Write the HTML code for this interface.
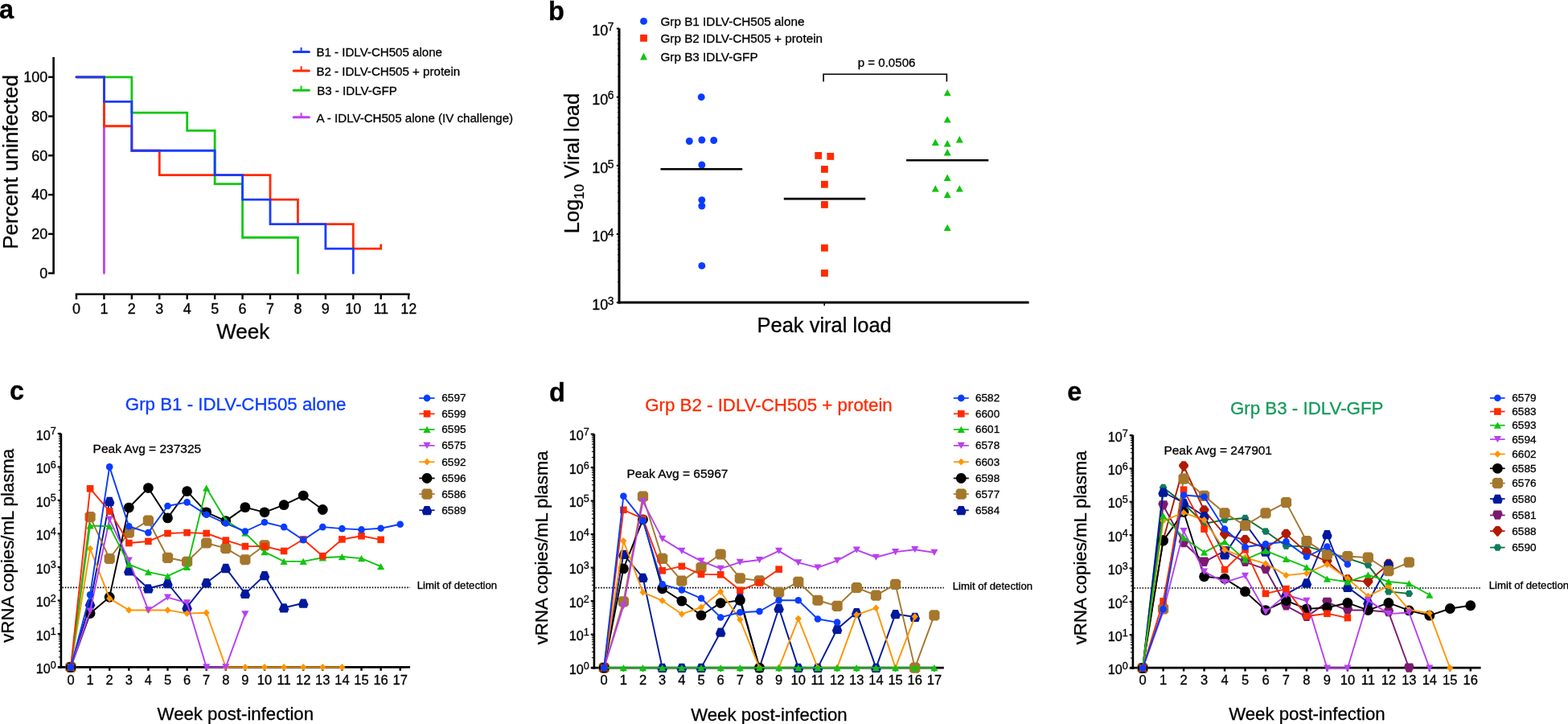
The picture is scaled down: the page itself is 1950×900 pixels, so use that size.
<!DOCTYPE html><html><head><meta charset="utf-8"><title>Figure</title><style>html,body{margin:0;padding:0;background:#fff;}svg{display:block;}</style></head><body>
<svg width="1950" height="900" viewBox="0 0 1950 900" font-family="'Liberation Sans', Arial, Helvetica, sans-serif">
<style>text{stroke:currentColor;stroke-width:0.3px;}</style>
<rect width="1950" height="900" fill="#fff"/>
<text x="-1" y="22.5" font-size="32.5" font-weight="bold">a</text>
<line x1="66.6" y1="71" x2="66.6" y2="340.8" stroke="#000" stroke-width="2.6"/>
<line x1="60" y1="339.6" x2="66.6" y2="339.6" stroke="#000" stroke-width="2.4"/>
<text x="59.2" y="345.9" font-size="18" text-anchor="end">0</text>
<line x1="60" y1="290.84" x2="66.6" y2="290.84" stroke="#000" stroke-width="2.4"/>
<text x="59.2" y="297.14" font-size="18" text-anchor="end">20</text>
<line x1="60" y1="242.08" x2="66.6" y2="242.08" stroke="#000" stroke-width="2.4"/>
<text x="59.2" y="248.38" font-size="18" text-anchor="end">40</text>
<line x1="60" y1="193.32" x2="66.6" y2="193.32" stroke="#000" stroke-width="2.4"/>
<text x="59.2" y="199.62" font-size="18" text-anchor="end">60</text>
<line x1="60" y1="144.56" x2="66.6" y2="144.56" stroke="#000" stroke-width="2.4"/>
<text x="59.2" y="150.86" font-size="18" text-anchor="end">80</text>
<line x1="60" y1="95.8" x2="66.6" y2="95.8" stroke="#000" stroke-width="2.4"/>
<text x="59.2" y="102.1" font-size="18" text-anchor="end">100</text>
<line x1="93.8" y1="365.7" x2="509.7" y2="365.7" stroke="#000" stroke-width="2.6"/>
<line x1="95" y1="365.6" x2="95" y2="372.2" stroke="#000" stroke-width="2.4"/>
<text x="95" y="390.2" font-size="18" text-anchor="middle">0</text>
<line x1="129.43" y1="365.6" x2="129.43" y2="372.2" stroke="#000" stroke-width="2.4"/>
<text x="129.43" y="390.2" font-size="18" text-anchor="middle">1</text>
<line x1="163.86" y1="365.6" x2="163.86" y2="372.2" stroke="#000" stroke-width="2.4"/>
<text x="163.86" y="390.2" font-size="18" text-anchor="middle">2</text>
<line x1="198.29" y1="365.6" x2="198.29" y2="372.2" stroke="#000" stroke-width="2.4"/>
<text x="198.29" y="390.2" font-size="18" text-anchor="middle">3</text>
<line x1="232.72" y1="365.6" x2="232.72" y2="372.2" stroke="#000" stroke-width="2.4"/>
<text x="232.72" y="390.2" font-size="18" text-anchor="middle">4</text>
<line x1="267.15" y1="365.6" x2="267.15" y2="372.2" stroke="#000" stroke-width="2.4"/>
<text x="267.15" y="390.2" font-size="18" text-anchor="middle">5</text>
<line x1="301.58" y1="365.6" x2="301.58" y2="372.2" stroke="#000" stroke-width="2.4"/>
<text x="301.58" y="390.2" font-size="18" text-anchor="middle">6</text>
<line x1="336.01" y1="365.6" x2="336.01" y2="372.2" stroke="#000" stroke-width="2.4"/>
<text x="336.01" y="390.2" font-size="18" text-anchor="middle">7</text>
<line x1="370.44" y1="365.6" x2="370.44" y2="372.2" stroke="#000" stroke-width="2.4"/>
<text x="370.44" y="390.2" font-size="18" text-anchor="middle">8</text>
<line x1="404.87" y1="365.6" x2="404.87" y2="372.2" stroke="#000" stroke-width="2.4"/>
<text x="404.87" y="390.2" font-size="18" text-anchor="middle">9</text>
<line x1="439.3" y1="365.6" x2="439.3" y2="372.2" stroke="#000" stroke-width="2.4"/>
<text x="439.3" y="390.2" font-size="18" text-anchor="middle">10</text>
<line x1="473.73" y1="365.6" x2="473.73" y2="372.2" stroke="#000" stroke-width="2.4"/>
<text x="473.73" y="390.2" font-size="18" text-anchor="middle">11</text>
<line x1="508.16" y1="365.6" x2="508.16" y2="372.2" stroke="#000" stroke-width="2.4"/>
<text x="508.16" y="390.2" font-size="18" text-anchor="middle">12</text>
<text x="269.2" y="421.3" font-size="26">Week</text>
<text transform="translate(22.4,201.4) rotate(-90)" font-size="26" text-anchor="middle">Percent uninfected</text>
<polyline points="129.43,95.8 129.43,339.6" fill="none" stroke="#c040f0" stroke-width="2.8" stroke-linejoin="miter" stroke-linecap="round"/>
<polyline points="95,95.8 163.86,95.8 163.86,140.17 232.72,140.17 232.72,162.36 267.15,162.36 267.15,228.67 301.58,228.67 301.58,295.23 370.44,295.23 370.44,339.6" fill="none" stroke="#12c812" stroke-width="2.8" stroke-linejoin="miter" stroke-linecap="round"/>
<polyline points="95,95.8 129.43,95.8 129.43,156.75 163.86,156.75 163.86,187.23 198.29,187.23 198.29,217.7 336.01,217.7 336.01,248.18 370.44,248.18 370.44,278.65 439.3,278.65 439.3,309.12 473.73,309.12 473.73,304.74" fill="none" stroke="#ff2a00" stroke-width="2.8" stroke-linejoin="miter" stroke-linecap="round"/>
<polyline points="95,95.8 129.43,95.8 129.43,126.28 163.86,126.28 163.86,187.23 267.15,187.23 267.15,217.7 301.58,217.7 301.58,248.18 336.01,248.18 336.01,278.65 404.87,278.65 404.87,309.12 439.3,309.12 439.3,339.6" fill="none" stroke="#1a3cff" stroke-width="2.8" stroke-linejoin="miter" stroke-linecap="round"/>
<line x1="365.2" y1="64.6" x2="384.4" y2="64.6" stroke="#1a3cff" stroke-width="3" stroke-linecap="round"/>
<line x1="374.6" y1="64.6" x2="374.6" y2="59" stroke="#1a3cff" stroke-width="2"/>
<text x="393.4" y="70.4" font-size="15.1">B1 - IDLV-CH505 alone</text>
<line x1="365.2" y1="87.9" x2="384.4" y2="87.9" stroke="#ff2a00" stroke-width="3" stroke-linecap="round"/>
<line x1="374.6" y1="87.9" x2="374.6" y2="82.3" stroke="#ff2a00" stroke-width="2"/>
<text x="393.4" y="93.7" font-size="15.1">B2 - IDLV-CH505 + protein</text>
<line x1="365.2" y1="112.2" x2="384.4" y2="112.2" stroke="#12c812" stroke-width="3" stroke-linecap="round"/>
<line x1="374.6" y1="112.2" x2="374.6" y2="106.6" stroke="#12c812" stroke-width="2"/>
<text x="394.2" y="118" font-size="15.1">B3 - IDLV-GFP</text>
<line x1="365.2" y1="145.7" x2="384.4" y2="145.7" stroke="#c040f0" stroke-width="3" stroke-linecap="round"/>
<line x1="374.6" y1="145.7" x2="374.6" y2="140.1" stroke="#c040f0" stroke-width="2"/>
<text x="393.4" y="151.5" font-size="15.1">A - IDLV-CH505 alone (IV challenge)</text>
<text x="682" y="25" font-size="32.5" font-weight="bold">b</text>
<line x1="770" y1="35.3" x2="770" y2="377.4" stroke="#000" stroke-width="3"/>
<line x1="768.5" y1="376" x2="1279.6" y2="376" stroke="#000" stroke-width="3"/>
<line x1="766.8" y1="376.1" x2="770" y2="376.1" stroke="#000" stroke-width="2"/>
<text x="756.2" y="385" font-size="18" text-anchor="end">10</text>
<text x="755.7" y="378.8" font-size="13.8">3</text>
<line x1="768" y1="350.47" x2="770" y2="350.47" stroke="#000" stroke-width="1"/>
<line x1="768" y1="335.47" x2="770" y2="335.47" stroke="#000" stroke-width="1"/>
<line x1="768" y1="324.83" x2="770" y2="324.83" stroke="#000" stroke-width="1"/>
<line x1="768" y1="316.58" x2="770" y2="316.58" stroke="#000" stroke-width="1"/>
<line x1="768" y1="309.84" x2="770" y2="309.84" stroke="#000" stroke-width="1"/>
<line x1="768" y1="304.14" x2="770" y2="304.14" stroke="#000" stroke-width="1"/>
<line x1="768" y1="299.2" x2="770" y2="299.2" stroke="#000" stroke-width="1"/>
<line x1="768" y1="294.85" x2="770" y2="294.85" stroke="#000" stroke-width="1"/>
<line x1="766.8" y1="290.95" x2="770" y2="290.95" stroke="#000" stroke-width="2"/>
<text x="756.2" y="299.85" font-size="18" text-anchor="end">10</text>
<text x="755.7" y="293.65" font-size="13.8">4</text>
<line x1="768" y1="265.32" x2="770" y2="265.32" stroke="#000" stroke-width="1"/>
<line x1="768" y1="250.32" x2="770" y2="250.32" stroke="#000" stroke-width="1"/>
<line x1="768" y1="239.68" x2="770" y2="239.68" stroke="#000" stroke-width="1"/>
<line x1="768" y1="231.43" x2="770" y2="231.43" stroke="#000" stroke-width="1"/>
<line x1="768" y1="224.69" x2="770" y2="224.69" stroke="#000" stroke-width="1"/>
<line x1="768" y1="218.99" x2="770" y2="218.99" stroke="#000" stroke-width="1"/>
<line x1="768" y1="214.05" x2="770" y2="214.05" stroke="#000" stroke-width="1"/>
<line x1="768" y1="209.7" x2="770" y2="209.7" stroke="#000" stroke-width="1"/>
<line x1="766.8" y1="205.8" x2="770" y2="205.8" stroke="#000" stroke-width="2"/>
<text x="756.2" y="214.7" font-size="18" text-anchor="end">10</text>
<text x="755.7" y="208.5" font-size="13.8">5</text>
<line x1="768" y1="180.17" x2="770" y2="180.17" stroke="#000" stroke-width="1"/>
<line x1="768" y1="165.17" x2="770" y2="165.17" stroke="#000" stroke-width="1"/>
<line x1="768" y1="154.53" x2="770" y2="154.53" stroke="#000" stroke-width="1"/>
<line x1="768" y1="146.28" x2="770" y2="146.28" stroke="#000" stroke-width="1"/>
<line x1="768" y1="139.54" x2="770" y2="139.54" stroke="#000" stroke-width="1"/>
<line x1="768" y1="133.84" x2="770" y2="133.84" stroke="#000" stroke-width="1"/>
<line x1="768" y1="128.9" x2="770" y2="128.9" stroke="#000" stroke-width="1"/>
<line x1="768" y1="124.55" x2="770" y2="124.55" stroke="#000" stroke-width="1"/>
<line x1="766.8" y1="120.65" x2="770" y2="120.65" stroke="#000" stroke-width="2"/>
<text x="756.2" y="129.55" font-size="18" text-anchor="end">10</text>
<text x="755.7" y="123.35" font-size="13.8">6</text>
<line x1="768" y1="95.02" x2="770" y2="95.02" stroke="#000" stroke-width="1"/>
<line x1="768" y1="80.02" x2="770" y2="80.02" stroke="#000" stroke-width="1"/>
<line x1="768" y1="69.38" x2="770" y2="69.38" stroke="#000" stroke-width="1"/>
<line x1="768" y1="61.13" x2="770" y2="61.13" stroke="#000" stroke-width="1"/>
<line x1="768" y1="54.39" x2="770" y2="54.39" stroke="#000" stroke-width="1"/>
<line x1="768" y1="48.69" x2="770" y2="48.69" stroke="#000" stroke-width="1"/>
<line x1="768" y1="43.75" x2="770" y2="43.75" stroke="#000" stroke-width="1"/>
<line x1="768" y1="39.4" x2="770" y2="39.4" stroke="#000" stroke-width="1"/>
<line x1="766.8" y1="35.5" x2="770" y2="35.5" stroke="#000" stroke-width="2"/>
<text x="756.2" y="44.4" font-size="18" text-anchor="end">10</text>
<text x="755.7" y="38.2" font-size="13.8">7</text>
<line x1="1025.2" y1="376" x2="1025.2" y2="380" stroke="#000" stroke-width="1.6"/>
<text transform="translate(720.2,203) rotate(-90)" font-size="25.5" text-anchor="middle">Log<tspan font-size="17" dy="5.5">10</tspan><tspan dy="-5.5"> Viral load</tspan></text>
<text x="941.5" y="413" font-size="25.5">Peak viral load</text>
<polyline points="1024.1,101.6 1024.1,92.3 1177.4,92.3 1177.4,101.6" fill="none" stroke="#000" stroke-width="1.6"/>
<text x="1066.7" y="82.9" font-size="15.1">p = 0.0506</text>
<circle cx="857.3" cy="175.5" r="4.45" fill="#0a3cff"/>
<circle cx="872.8" cy="174" r="4.45" fill="#0a3cff"/>
<circle cx="887.7" cy="174.5" r="4.45" fill="#0a3cff"/>
<circle cx="872.2" cy="120.7" r="4.45" fill="#0a3cff"/>
<circle cx="872.8" cy="205" r="4.45" fill="#0a3cff"/>
<circle cx="872.8" cy="248.6" r="4.45" fill="#0a3cff"/>
<circle cx="872.8" cy="256" r="4.45" fill="#0a3cff"/>
<circle cx="872.8" cy="330.4" r="4.45" fill="#0a3cff"/>
<rect x="1013.3" y="189" width="8.8" height="8.8" fill="#ff2a00"/>
<rect x="1028.4" y="190" width="8.8" height="8.8" fill="#ff2a00"/>
<rect x="1021" y="206" width="8.8" height="8.8" fill="#ff2a00"/>
<rect x="1021" y="224.8" width="8.8" height="8.8" fill="#ff2a00"/>
<rect x="1021" y="250" width="8.8" height="8.8" fill="#ff2a00"/>
<rect x="1021" y="303.8" width="8.8" height="8.8" fill="#ff2a00"/>
<rect x="1021" y="335.1" width="8.8" height="8.8" fill="#ff2a00"/>
<polygon points="1178.2,110.9 1182.7,119.3 1173.7,119.3" fill="#10c410"/>
<polygon points="1178.2,144.2 1182.7,152.6 1173.7,152.6" fill="#10c410"/>
<polygon points="1163.3,172.5 1167.8,180.9 1158.8,180.9" fill="#10c410"/>
<polygon points="1193.3,169.1 1197.8,177.5 1188.8,177.5" fill="#10c410"/>
<polygon points="1178.2,174 1182.7,182.4 1173.7,182.4" fill="#10c410"/>
<polygon points="1178.2,185.1 1182.7,193.5 1173.7,193.5" fill="#10c410"/>
<polygon points="1178.2,216.5 1182.7,224.9 1173.7,224.9" fill="#10c410"/>
<polygon points="1163.3,230.2 1167.8,238.6 1158.8,238.6" fill="#10c410"/>
<polygon points="1193.3,230.2 1197.8,238.6 1188.8,238.6" fill="#10c410"/>
<polygon points="1178.2,237.6 1182.7,246 1173.7,246" fill="#10c410"/>
<polygon points="1178.2,278.7 1182.7,287.1 1173.7,287.1" fill="#10c410"/>
<line x1="821.5" y1="210.3" x2="923.2" y2="210.3" stroke="#000" stroke-width="2.6"/>
<line x1="974.8" y1="247.1" x2="1076.3" y2="247.1" stroke="#000" stroke-width="2.6"/>
<line x1="1127.1" y1="199.3" x2="1229.3" y2="199.3" stroke="#000" stroke-width="2.6"/>
<circle cx="800.5" cy="26.4" r="4.45" fill="#0a3cff"/>
<rect x="796.1" y="43" width="8.8" height="8.8" fill="#ff2a00"/>
<polygon points="800.5,65.6 804.95,74.6 796.05,74.6" fill="#10c410"/>
<text x="821.4" y="32" font-size="15.3">Grp B1 IDLV-CH505 alone</text>
<text x="821.4" y="53.1" font-size="15.3">Grp B2 IDLV-CH505 + protein</text>
<text x="821.4" y="75.6" font-size="15.3">Grp B3 IDLV-GFP</text>
<text x="12" y="497.2" font-size="32.5" font-weight="bold">c</text>
<text x="155.8" y="509.6" font-size="22.3" fill="#0a3cff" color="#0a3cff">Grp B1 - IDLV-CH505 alone</text>
<text x="115.6" y="563.3" font-size="15.5">Peak Avg = 237325</text>
<line x1="75.9" y1="538.7" x2="75.9" y2="830.8" stroke="#000" stroke-width="2.6"/>
<line x1="71.7" y1="829.4" x2="75.9" y2="829.4" stroke="#000" stroke-width="2"/>
<text x="62.8" y="837.1" font-size="16.2" text-anchor="end">10</text>
<text x="62.8" y="830.9" font-size="12.6">0</text>
<line x1="72.9" y1="816.91" x2="75.9" y2="816.91" stroke="#000" stroke-width="1"/>
<line x1="72.9" y1="809.6" x2="75.9" y2="809.6" stroke="#000" stroke-width="1"/>
<line x1="72.9" y1="804.41" x2="75.9" y2="804.41" stroke="#000" stroke-width="1"/>
<line x1="72.9" y1="800.39" x2="75.9" y2="800.39" stroke="#000" stroke-width="1"/>
<line x1="72.9" y1="797.11" x2="75.9" y2="797.11" stroke="#000" stroke-width="1"/>
<line x1="72.9" y1="794.33" x2="75.9" y2="794.33" stroke="#000" stroke-width="1"/>
<line x1="72.9" y1="791.92" x2="75.9" y2="791.92" stroke="#000" stroke-width="1"/>
<line x1="72.9" y1="789.8" x2="75.9" y2="789.8" stroke="#000" stroke-width="1"/>
<line x1="71.7" y1="787.9" x2="75.9" y2="787.9" stroke="#000" stroke-width="2"/>
<text x="62.8" y="795.6" font-size="16.2" text-anchor="end">10</text>
<text x="62.8" y="789.4" font-size="12.6">1</text>
<line x1="72.9" y1="775.41" x2="75.9" y2="775.41" stroke="#000" stroke-width="1"/>
<line x1="72.9" y1="768.1" x2="75.9" y2="768.1" stroke="#000" stroke-width="1"/>
<line x1="72.9" y1="762.91" x2="75.9" y2="762.91" stroke="#000" stroke-width="1"/>
<line x1="72.9" y1="758.89" x2="75.9" y2="758.89" stroke="#000" stroke-width="1"/>
<line x1="72.9" y1="755.61" x2="75.9" y2="755.61" stroke="#000" stroke-width="1"/>
<line x1="72.9" y1="752.83" x2="75.9" y2="752.83" stroke="#000" stroke-width="1"/>
<line x1="72.9" y1="750.42" x2="75.9" y2="750.42" stroke="#000" stroke-width="1"/>
<line x1="72.9" y1="748.3" x2="75.9" y2="748.3" stroke="#000" stroke-width="1"/>
<line x1="71.7" y1="746.4" x2="75.9" y2="746.4" stroke="#000" stroke-width="2"/>
<text x="62.8" y="754.1" font-size="16.2" text-anchor="end">10</text>
<text x="62.8" y="747.9" font-size="12.6">2</text>
<line x1="72.9" y1="733.91" x2="75.9" y2="733.91" stroke="#000" stroke-width="1"/>
<line x1="72.9" y1="726.6" x2="75.9" y2="726.6" stroke="#000" stroke-width="1"/>
<line x1="72.9" y1="721.41" x2="75.9" y2="721.41" stroke="#000" stroke-width="1"/>
<line x1="72.9" y1="717.39" x2="75.9" y2="717.39" stroke="#000" stroke-width="1"/>
<line x1="72.9" y1="714.11" x2="75.9" y2="714.11" stroke="#000" stroke-width="1"/>
<line x1="72.9" y1="711.33" x2="75.9" y2="711.33" stroke="#000" stroke-width="1"/>
<line x1="72.9" y1="708.92" x2="75.9" y2="708.92" stroke="#000" stroke-width="1"/>
<line x1="72.9" y1="706.8" x2="75.9" y2="706.8" stroke="#000" stroke-width="1"/>
<line x1="71.7" y1="704.9" x2="75.9" y2="704.9" stroke="#000" stroke-width="2"/>
<text x="62.8" y="712.6" font-size="16.2" text-anchor="end">10</text>
<text x="62.8" y="706.4" font-size="12.6">3</text>
<line x1="72.9" y1="692.41" x2="75.9" y2="692.41" stroke="#000" stroke-width="1"/>
<line x1="72.9" y1="685.1" x2="75.9" y2="685.1" stroke="#000" stroke-width="1"/>
<line x1="72.9" y1="679.91" x2="75.9" y2="679.91" stroke="#000" stroke-width="1"/>
<line x1="72.9" y1="675.89" x2="75.9" y2="675.89" stroke="#000" stroke-width="1"/>
<line x1="72.9" y1="672.61" x2="75.9" y2="672.61" stroke="#000" stroke-width="1"/>
<line x1="72.9" y1="669.83" x2="75.9" y2="669.83" stroke="#000" stroke-width="1"/>
<line x1="72.9" y1="667.42" x2="75.9" y2="667.42" stroke="#000" stroke-width="1"/>
<line x1="72.9" y1="665.3" x2="75.9" y2="665.3" stroke="#000" stroke-width="1"/>
<line x1="71.7" y1="663.4" x2="75.9" y2="663.4" stroke="#000" stroke-width="2"/>
<text x="62.8" y="671.1" font-size="16.2" text-anchor="end">10</text>
<text x="62.8" y="664.9" font-size="12.6">4</text>
<line x1="72.9" y1="650.91" x2="75.9" y2="650.91" stroke="#000" stroke-width="1"/>
<line x1="72.9" y1="643.6" x2="75.9" y2="643.6" stroke="#000" stroke-width="1"/>
<line x1="72.9" y1="638.41" x2="75.9" y2="638.41" stroke="#000" stroke-width="1"/>
<line x1="72.9" y1="634.39" x2="75.9" y2="634.39" stroke="#000" stroke-width="1"/>
<line x1="72.9" y1="631.11" x2="75.9" y2="631.11" stroke="#000" stroke-width="1"/>
<line x1="72.9" y1="628.33" x2="75.9" y2="628.33" stroke="#000" stroke-width="1"/>
<line x1="72.9" y1="625.92" x2="75.9" y2="625.92" stroke="#000" stroke-width="1"/>
<line x1="72.9" y1="623.8" x2="75.9" y2="623.8" stroke="#000" stroke-width="1"/>
<line x1="71.7" y1="621.9" x2="75.9" y2="621.9" stroke="#000" stroke-width="2"/>
<text x="62.8" y="629.6" font-size="16.2" text-anchor="end">10</text>
<text x="62.8" y="623.4" font-size="12.6">5</text>
<line x1="72.9" y1="609.41" x2="75.9" y2="609.41" stroke="#000" stroke-width="1"/>
<line x1="72.9" y1="602.1" x2="75.9" y2="602.1" stroke="#000" stroke-width="1"/>
<line x1="72.9" y1="596.91" x2="75.9" y2="596.91" stroke="#000" stroke-width="1"/>
<line x1="72.9" y1="592.89" x2="75.9" y2="592.89" stroke="#000" stroke-width="1"/>
<line x1="72.9" y1="589.61" x2="75.9" y2="589.61" stroke="#000" stroke-width="1"/>
<line x1="72.9" y1="586.83" x2="75.9" y2="586.83" stroke="#000" stroke-width="1"/>
<line x1="72.9" y1="584.42" x2="75.9" y2="584.42" stroke="#000" stroke-width="1"/>
<line x1="72.9" y1="582.3" x2="75.9" y2="582.3" stroke="#000" stroke-width="1"/>
<line x1="71.7" y1="580.4" x2="75.9" y2="580.4" stroke="#000" stroke-width="2"/>
<text x="62.8" y="588.1" font-size="16.2" text-anchor="end">10</text>
<text x="62.8" y="581.9" font-size="12.6">6</text>
<line x1="72.9" y1="567.91" x2="75.9" y2="567.91" stroke="#000" stroke-width="1"/>
<line x1="72.9" y1="560.6" x2="75.9" y2="560.6" stroke="#000" stroke-width="1"/>
<line x1="72.9" y1="555.41" x2="75.9" y2="555.41" stroke="#000" stroke-width="1"/>
<line x1="72.9" y1="551.39" x2="75.9" y2="551.39" stroke="#000" stroke-width="1"/>
<line x1="72.9" y1="548.11" x2="75.9" y2="548.11" stroke="#000" stroke-width="1"/>
<line x1="72.9" y1="545.33" x2="75.9" y2="545.33" stroke="#000" stroke-width="1"/>
<line x1="72.9" y1="542.92" x2="75.9" y2="542.92" stroke="#000" stroke-width="1"/>
<line x1="72.9" y1="540.8" x2="75.9" y2="540.8" stroke="#000" stroke-width="1"/>
<line x1="71.7" y1="538.9" x2="75.9" y2="538.9" stroke="#000" stroke-width="2"/>
<text x="62.8" y="546.6" font-size="16.2" text-anchor="end">10</text>
<text x="62.8" y="540.4" font-size="12.6">7</text>
<line x1="72.3" y1="829.4" x2="510" y2="829.4" stroke="#000" stroke-width="2.8"/>
<line x1="88" y1="829.4" x2="88" y2="833.8" stroke="#000" stroke-width="2.4"/>
<text x="88" y="850.8" font-size="16.5" text-anchor="middle">0</text>
<line x1="112.1" y1="829.4" x2="112.1" y2="833.8" stroke="#000" stroke-width="2.4"/>
<text x="112.1" y="850.8" font-size="16.5" text-anchor="middle">1</text>
<line x1="136.2" y1="829.4" x2="136.2" y2="833.8" stroke="#000" stroke-width="2.4"/>
<text x="136.2" y="850.8" font-size="16.5" text-anchor="middle">2</text>
<line x1="160.3" y1="829.4" x2="160.3" y2="833.8" stroke="#000" stroke-width="2.4"/>
<text x="160.3" y="850.8" font-size="16.5" text-anchor="middle">3</text>
<line x1="184.4" y1="829.4" x2="184.4" y2="833.8" stroke="#000" stroke-width="2.4"/>
<text x="184.4" y="850.8" font-size="16.5" text-anchor="middle">4</text>
<line x1="208.5" y1="829.4" x2="208.5" y2="833.8" stroke="#000" stroke-width="2.4"/>
<text x="208.5" y="850.8" font-size="16.5" text-anchor="middle">5</text>
<line x1="232.6" y1="829.4" x2="232.6" y2="833.8" stroke="#000" stroke-width="2.4"/>
<text x="232.6" y="850.8" font-size="16.5" text-anchor="middle">6</text>
<line x1="256.7" y1="829.4" x2="256.7" y2="833.8" stroke="#000" stroke-width="2.4"/>
<text x="256.7" y="850.8" font-size="16.5" text-anchor="middle">7</text>
<line x1="280.8" y1="829.4" x2="280.8" y2="833.8" stroke="#000" stroke-width="2.4"/>
<text x="280.8" y="850.8" font-size="16.5" text-anchor="middle">8</text>
<line x1="304.9" y1="829.4" x2="304.9" y2="833.8" stroke="#000" stroke-width="2.4"/>
<text x="304.9" y="850.8" font-size="16.5" text-anchor="middle">9</text>
<line x1="329" y1="829.4" x2="329" y2="833.8" stroke="#000" stroke-width="2.4"/>
<text x="329" y="850.8" font-size="16.5" text-anchor="middle">10</text>
<line x1="353.1" y1="829.4" x2="353.1" y2="833.8" stroke="#000" stroke-width="2.4"/>
<text x="353.1" y="850.8" font-size="16.5" text-anchor="middle">11</text>
<line x1="377.2" y1="829.4" x2="377.2" y2="833.8" stroke="#000" stroke-width="2.4"/>
<text x="377.2" y="850.8" font-size="16.5" text-anchor="middle">12</text>
<line x1="401.3" y1="829.4" x2="401.3" y2="833.8" stroke="#000" stroke-width="2.4"/>
<text x="401.3" y="850.8" font-size="16.5" text-anchor="middle">13</text>
<line x1="425.4" y1="829.4" x2="425.4" y2="833.8" stroke="#000" stroke-width="2.4"/>
<text x="425.4" y="850.8" font-size="16.5" text-anchor="middle">14</text>
<line x1="449.5" y1="829.4" x2="449.5" y2="833.8" stroke="#000" stroke-width="2.4"/>
<text x="449.5" y="850.8" font-size="16.5" text-anchor="middle">15</text>
<line x1="473.6" y1="829.4" x2="473.6" y2="833.8" stroke="#000" stroke-width="2.4"/>
<text x="473.6" y="850.8" font-size="16.5" text-anchor="middle">16</text>
<line x1="497.7" y1="829.4" x2="497.7" y2="833.8" stroke="#000" stroke-width="2.4"/>
<text x="497.7" y="850.8" font-size="16.5" text-anchor="middle">17</text>
<text x="195.6" y="894.6" font-size="22.2">Week post-infection</text>
<text transform="translate(16.7,678.3) rotate(-90)" font-size="22.2" text-anchor="middle">vRNA copies/mL plasma</text>
<line x1="77.4" y1="730.3" x2="510" y2="730.3" stroke="#000" stroke-width="1.7" stroke-dasharray="1.6 1.75"/>
<text x="518.8" y="732.2" font-size="13.15">Limit of detection</text>
<polyline points="88,829.4 112.1,750.55 136.2,623.14 160.3,709.46 184.4,731.46 208.5,725.24 232.6,754.7 256.7,724.4 280.8,706.14 304.9,738.1 329,715.27 353.1,755.53 377.2,749.72" fill="none" stroke="#00189c" stroke-width="1.9" stroke-linejoin="round"/>
<polygon points="84.8,824.1 91.2,824.1 94.2,831.2 92.6,835.4 83.4,835.4 81.8,831.2" fill="#00189c"/>
<polygon points="108.9,745.25 115.3,745.25 118.3,752.35 116.7,756.55 107.5,756.55 105.9,752.35" fill="#00189c"/>
<polygon points="133,617.85 139.4,617.85 142.4,624.94 140.8,629.14 131.6,629.14 130,624.94" fill="#00189c"/>
<polygon points="157.1,704.16 163.5,704.16 166.5,711.26 164.9,715.46 155.7,715.46 154.1,711.26" fill="#00189c"/>
<polygon points="181.2,726.16 187.6,726.16 190.6,733.26 189,737.46 179.8,737.46 178.2,733.26" fill="#00189c"/>
<polygon points="205.3,719.94 211.7,719.94 214.7,727.03 213.1,731.24 203.9,731.24 202.3,727.03" fill="#00189c"/>
<polygon points="229.4,749.4 235.8,749.4 238.8,756.5 237.2,760.7 228,760.7 226.4,756.5" fill="#00189c"/>
<polygon points="253.5,719.11 259.9,719.11 262.9,726.2 261.3,730.4 252.1,730.4 250.5,726.2" fill="#00189c"/>
<polygon points="277.6,700.85 284,700.85 287,707.94 285.4,712.14 276.2,712.14 274.6,707.94" fill="#00189c"/>
<polygon points="301.7,732.8 308.1,732.8 311.1,739.9 309.5,744.1 300.3,744.1 298.7,739.9" fill="#00189c"/>
<polygon points="325.8,709.98 332.2,709.98 335.2,717.07 333.6,721.27 324.4,721.27 322.8,717.07" fill="#00189c"/>
<polygon points="349.9,750.23 356.3,750.23 359.3,757.33 357.7,761.53 348.5,761.53 346.9,757.33" fill="#00189c"/>
<polygon points="374,744.42 380.4,744.42 383.4,751.52 381.8,755.72 372.6,755.72 371,751.52" fill="#00189c"/>
<polyline points="88,829.4 112.1,642.65 136.2,694.52 160.3,662.15 184.4,647.22 208.5,693.28 232.6,698.26 256.7,675.02 280.8,681.66 304.9,695.77 329,677.92" fill="none" stroke="#a4772c" stroke-width="1.9" stroke-linejoin="round"/>
<polygon points="83.9,822.8 92.1,822.8 94.6,825.3 94.6,833.5 92.1,836 83.9,836 81.4,833.5 81.4,825.3" fill="#a4772c"/>
<polygon points="108,636.05 116.2,636.05 118.7,638.55 118.7,646.75 116.2,649.25 108,649.25 105.5,646.75 105.5,638.55" fill="#a4772c"/>
<polygon points="132.1,687.92 140.3,687.92 142.8,690.42 142.8,698.62 140.3,701.12 132.1,701.12 129.6,698.62 129.6,690.42" fill="#a4772c"/>
<polygon points="156.2,655.55 164.4,655.55 166.9,658.05 166.9,666.25 164.4,668.75 156.2,668.75 153.7,666.25 153.7,658.05" fill="#a4772c"/>
<polygon points="180.3,640.62 188.5,640.62 191,643.12 191,651.32 188.5,653.82 180.3,653.82 177.8,651.32 177.8,643.12" fill="#a4772c"/>
<polygon points="204.4,686.68 212.6,686.68 215.1,689.18 215.1,697.38 212.6,699.88 204.4,699.88 201.9,697.38 201.9,689.18" fill="#a4772c"/>
<polygon points="228.5,691.66 236.7,691.66 239.2,694.16 239.2,702.36 236.7,704.86 228.5,704.86 226,702.36 226,694.16" fill="#a4772c"/>
<polygon points="252.6,668.42 260.8,668.42 263.3,670.92 263.3,679.12 260.8,681.62 252.6,681.62 250.1,679.12 250.1,670.92" fill="#a4772c"/>
<polygon points="276.7,675.06 284.9,675.06 287.4,677.56 287.4,685.76 284.9,688.26 276.7,688.26 274.2,685.76 274.2,677.56" fill="#a4772c"/>
<polygon points="300.8,689.17 309,689.17 311.5,691.67 311.5,699.87 309,702.37 300.8,702.37 298.3,699.87 298.3,691.67" fill="#a4772c"/>
<polygon points="324.9,671.32 333.1,671.32 335.6,673.82 335.6,682.02 333.1,684.52 324.9,684.52 322.4,682.02 322.4,673.82" fill="#a4772c"/>
<polyline points="88,829.4 112.1,762.59 136.2,742.25 160.3,631.03 184.4,606.54 208.5,643.89 232.6,610.69 256.7,636.84 280.8,647.63 304.9,630.62 329,636.84 353.1,627.71 377.2,616.09 401.3,633.52" fill="none" stroke="#000000" stroke-width="1.9" stroke-linejoin="round"/>
<circle cx="88" cy="829.4" r="6.4" fill="#000000"/>
<circle cx="112.1" cy="762.59" r="6.4" fill="#000000"/>
<circle cx="136.2" cy="742.25" r="6.4" fill="#000000"/>
<circle cx="160.3" cy="631.03" r="6.4" fill="#000000"/>
<circle cx="184.4" cy="606.54" r="6.4" fill="#000000"/>
<circle cx="208.5" cy="643.89" r="6.4" fill="#000000"/>
<circle cx="232.6" cy="610.69" r="6.4" fill="#000000"/>
<circle cx="256.7" cy="636.84" r="6.4" fill="#000000"/>
<circle cx="280.8" cy="647.63" r="6.4" fill="#000000"/>
<circle cx="304.9" cy="630.62" r="6.4" fill="#000000"/>
<circle cx="329" cy="636.84" r="6.4" fill="#000000"/>
<circle cx="353.1" cy="627.71" r="6.4" fill="#000000"/>
<circle cx="377.2" cy="616.09" r="6.4" fill="#000000"/>
<circle cx="401.3" cy="633.52" r="6.4" fill="#000000"/>
<polyline points="88,829.4 112.1,682.08 136.2,743.91 160.3,758.43 184.4,758.43 208.5,758.43 232.6,762.59 256.7,761.75 280.8,829.4 304.9,829.4 329,829.4 353.1,829.4 377.2,829.4 401.3,829.4 425.4,829.4" fill="none" stroke="#ff9400" stroke-width="1.9" stroke-linejoin="round"/>
<polygon points="88,825 92.1,829.4 88,833.8 83.9,829.4" fill="#ff9400"/>
<polygon points="112.1,677.68 116.2,682.08 112.1,686.48 108,682.08" fill="#ff9400"/>
<polygon points="136.2,739.51 140.3,743.91 136.2,748.31 132.1,743.91" fill="#ff9400"/>
<polygon points="160.3,754.03 164.4,758.43 160.3,762.83 156.2,758.43" fill="#ff9400"/>
<polygon points="184.4,754.03 188.5,758.43 184.4,762.83 180.3,758.43" fill="#ff9400"/>
<polygon points="208.5,754.03 212.6,758.43 208.5,762.83 204.4,758.43" fill="#ff9400"/>
<polygon points="232.6,758.19 236.7,762.59 232.6,766.99 228.5,762.59" fill="#ff9400"/>
<polygon points="256.7,757.36 260.8,761.75 256.7,766.15 252.6,761.75" fill="#ff9400"/>
<polygon points="280.8,825 284.9,829.4 280.8,833.8 276.7,829.4" fill="#ff9400"/>
<polygon points="304.9,825 309,829.4 304.9,833.8 300.8,829.4" fill="#ff9400"/>
<polygon points="329,825 333.1,829.4 329,833.8 324.9,829.4" fill="#ff9400"/>
<polygon points="353.1,825 357.2,829.4 353.1,833.8 349,829.4" fill="#ff9400"/>
<polygon points="377.2,825 381.3,829.4 377.2,833.8 373.1,829.4" fill="#ff9400"/>
<polygon points="401.3,825 405.4,829.4 401.3,833.8 397.2,829.4" fill="#ff9400"/>
<polygon points="425.4,825 429.5,829.4 425.4,833.8 421.3,829.4" fill="#ff9400"/>
<polyline points="88,829.4 112.1,759.68 136.2,645.55 160.3,696.6 184.4,758.43 208.5,742.66 232.6,749.3 256.7,829.4 280.8,829.4 304.9,763.41" fill="none" stroke="#b840f0" stroke-width="1.9" stroke-linejoin="round"/>
<polygon points="88,833.5 92.6,825.3 83.4,825.3" fill="#b840f0"/>
<polygon points="112.1,763.78 116.7,755.58 107.5,755.58" fill="#b840f0"/>
<polygon points="136.2,649.65 140.8,641.45 131.6,641.45" fill="#b840f0"/>
<polygon points="160.3,700.7 164.9,692.5 155.7,692.5" fill="#b840f0"/>
<polygon points="184.4,762.53 189,754.33 179.8,754.33" fill="#b840f0"/>
<polygon points="208.5,746.76 213.1,738.56 203.9,738.56" fill="#b840f0"/>
<polygon points="232.6,753.4 237.2,745.2 228,745.2" fill="#b840f0"/>
<polygon points="256.7,833.5 261.3,825.3 252.1,825.3" fill="#b840f0"/>
<polygon points="280.8,833.5 285.4,825.3 276.2,825.3" fill="#b840f0"/>
<polygon points="304.9,767.51 309.5,759.31 300.3,759.31" fill="#b840f0"/>
<polyline points="88,829.4 112.1,653.44 136.2,654.27 160.3,701.58 184.4,711.12 208.5,716.11 232.6,704.9 256.7,606.54 280.8,646.8 304.9,662.57 329,686.22 353.1,697.85 377.2,697.85 401.3,693.28 425.4,692.03 449.5,694.11 473.6,704.07" fill="none" stroke="#10c410" stroke-width="1.9" stroke-linejoin="round"/>
<polygon points="88,825.3 92.6,833.5 83.4,833.5" fill="#10c410"/>
<polygon points="112.1,649.34 116.7,657.54 107.5,657.54" fill="#10c410"/>
<polygon points="136.2,650.17 140.8,658.37 131.6,658.37" fill="#10c410"/>
<polygon points="160.3,697.48 164.9,705.68 155.7,705.68" fill="#10c410"/>
<polygon points="184.4,707.02 189,715.23 179.8,715.23" fill="#10c410"/>
<polygon points="208.5,712 213.1,720.21 203.9,720.21" fill="#10c410"/>
<polygon points="232.6,700.8 237.2,709 228,709" fill="#10c410"/>
<polygon points="256.7,602.44 261.3,610.64 252.1,610.64" fill="#10c410"/>
<polygon points="280.8,642.7 285.4,650.9 276.2,650.9" fill="#10c410"/>
<polygon points="304.9,658.47 309.5,666.67 300.3,666.67" fill="#10c410"/>
<polygon points="329,682.12 333.6,690.32 324.4,690.32" fill="#10c410"/>
<polygon points="353.1,693.75 357.7,701.95 348.5,701.95" fill="#10c410"/>
<polygon points="377.2,693.75 381.8,701.95 372.6,701.95" fill="#10c410"/>
<polygon points="401.3,689.18 405.9,697.38 396.7,697.38" fill="#10c410"/>
<polygon points="425.4,687.93 430,696.13 420.8,696.13" fill="#10c410"/>
<polygon points="449.5,690.01 454.1,698.21 444.9,698.21" fill="#10c410"/>
<polygon points="473.6,699.97 478.2,708.17 469,708.17" fill="#10c410"/>
<polyline points="88,829.4 112.1,607.38 136.2,635.6 160.3,675.02 184.4,672.94 208.5,662.99 232.6,662.15 256.7,662.99 280.8,671.7 304.9,679.17 329,679.17 353.1,684.98 377.2,670.45 401.3,691.2 425.4,670.45 449.5,666.3 473.6,670.87" fill="none" stroke="#ff2a00" stroke-width="1.9" stroke-linejoin="round"/>
<rect x="83.7" y="825.1" width="8.6" height="8.6" fill="#ff2a00"/>
<rect x="107.8" y="603.08" width="8.6" height="8.6" fill="#ff2a00"/>
<rect x="131.9" y="631.3" width="8.6" height="8.6" fill="#ff2a00"/>
<rect x="156" y="670.72" width="8.6" height="8.6" fill="#ff2a00"/>
<rect x="180.1" y="668.64" width="8.6" height="8.6" fill="#ff2a00"/>
<rect x="204.2" y="658.69" width="8.6" height="8.6" fill="#ff2a00"/>
<rect x="228.3" y="657.86" width="8.6" height="8.6" fill="#ff2a00"/>
<rect x="252.4" y="658.69" width="8.6" height="8.6" fill="#ff2a00"/>
<rect x="276.5" y="667.4" width="8.6" height="8.6" fill="#ff2a00"/>
<rect x="300.6" y="674.87" width="8.6" height="8.6" fill="#ff2a00"/>
<rect x="324.7" y="674.87" width="8.6" height="8.6" fill="#ff2a00"/>
<rect x="348.8" y="680.68" width="8.6" height="8.6" fill="#ff2a00"/>
<rect x="372.9" y="666.15" width="8.6" height="8.6" fill="#ff2a00"/>
<rect x="397" y="686.9" width="8.6" height="8.6" fill="#ff2a00"/>
<rect x="421.1" y="666.15" width="8.6" height="8.6" fill="#ff2a00"/>
<rect x="445.2" y="662" width="8.6" height="8.6" fill="#ff2a00"/>
<rect x="469.3" y="666.57" width="8.6" height="8.6" fill="#ff2a00"/>
<polyline points="88,829.4 112.1,739.35 136.2,580.4 160.3,654.27 184.4,662.15 208.5,628.95 232.6,624.39 256.7,639.75 280.8,650.53 304.9,660.5 329,649.29 353.1,655.1 377.2,671.28 401.3,655.1 425.4,657.17 449.5,658.42 473.6,656.76 497.7,651.78" fill="none" stroke="#0a3cff" stroke-width="1.9" stroke-linejoin="round"/>
<circle cx="88" cy="829.4" r="4.3" fill="#0a3cff"/>
<circle cx="112.1" cy="739.35" r="4.3" fill="#0a3cff"/>
<circle cx="136.2" cy="580.4" r="4.3" fill="#0a3cff"/>
<circle cx="160.3" cy="654.27" r="4.3" fill="#0a3cff"/>
<circle cx="184.4" cy="662.15" r="4.3" fill="#0a3cff"/>
<circle cx="208.5" cy="628.95" r="4.3" fill="#0a3cff"/>
<circle cx="232.6" cy="624.39" r="4.3" fill="#0a3cff"/>
<circle cx="256.7" cy="639.75" r="4.3" fill="#0a3cff"/>
<circle cx="280.8" cy="650.53" r="4.3" fill="#0a3cff"/>
<circle cx="304.9" cy="660.5" r="4.3" fill="#0a3cff"/>
<circle cx="329" cy="649.29" r="4.3" fill="#0a3cff"/>
<circle cx="353.1" cy="655.1" r="4.3" fill="#0a3cff"/>
<circle cx="377.2" cy="671.28" r="4.3" fill="#0a3cff"/>
<circle cx="401.3" cy="655.1" r="4.3" fill="#0a3cff"/>
<circle cx="425.4" cy="657.17" r="4.3" fill="#0a3cff"/>
<circle cx="449.5" cy="658.42" r="4.3" fill="#0a3cff"/>
<circle cx="473.6" cy="656.76" r="4.3" fill="#0a3cff"/>
<circle cx="497.7" cy="651.78" r="4.3" fill="#0a3cff"/>
<line x1="521.2" y1="494.9" x2="540.6" y2="494.9" stroke="#0a3cff" stroke-width="1.7"/>
<circle cx="531" cy="494.9" r="4.3" fill="#0a3cff"/>
<text x="549.3" y="499.4" font-size="13.6">6597</text>
<line x1="521.2" y1="514.4" x2="540.6" y2="514.4" stroke="#ff2a00" stroke-width="1.7"/>
<rect x="526.7" y="510.1" width="8.6" height="8.6" fill="#ff2a00"/>
<text x="549.3" y="518.9" font-size="13.6">6599</text>
<line x1="521.2" y1="533.9" x2="540.6" y2="533.9" stroke="#10c410" stroke-width="1.7"/>
<polygon points="531,529.8 535.6,538 526.4,538" fill="#10c410"/>
<text x="549.3" y="538.4" font-size="13.6">6595</text>
<line x1="521.2" y1="553.9" x2="540.6" y2="553.9" stroke="#b840f0" stroke-width="1.7"/>
<polygon points="531,558 535.6,549.8 526.4,549.8" fill="#b840f0"/>
<text x="549.3" y="558.4" font-size="13.6">6575</text>
<line x1="521.2" y1="574.2" x2="540.6" y2="574.2" stroke="#ff9400" stroke-width="1.7"/>
<polygon points="531,569.8 535.1,574.2 531,578.6 526.9,574.2" fill="#ff9400"/>
<text x="549.3" y="578.7" font-size="13.6">6592</text>
<line x1="521.2" y1="594.5" x2="540.6" y2="594.5" stroke="#000000" stroke-width="1.7"/>
<circle cx="531" cy="594.5" r="6.4" fill="#000000"/>
<text x="549.3" y="599" font-size="13.6">6596</text>
<line x1="521.2" y1="614.1" x2="540.6" y2="614.1" stroke="#a4772c" stroke-width="1.7"/>
<polygon points="526.9,607.5 535.1,607.5 537.6,610 537.6,618.2 535.1,620.7 526.9,620.7 524.4,618.2 524.4,610" fill="#a4772c"/>
<text x="549.3" y="618.6" font-size="13.6">6586</text>
<line x1="521.2" y1="634.3" x2="540.6" y2="634.3" stroke="#00189c" stroke-width="1.7"/>
<polygon points="527.8,629 534.2,629 537.2,636.1 535.6,640.3 526.4,640.3 524.8,636.1" fill="#00189c"/>
<text x="549.3" y="638.8" font-size="13.6">6589</text>
<text x="683" y="499.3" font-size="32.5" font-weight="bold">d</text>
<text x="802.2" y="510.8" font-size="22.3" fill="#ff2a00" color="#ff2a00">Grp B2 - IDLV-CH505 + protein</text>
<text x="779.5" y="594.4" font-size="15.5">Peak Avg = 65967</text>
<line x1="738.9" y1="539.4" x2="738.9" y2="831.5" stroke="#000" stroke-width="2.6"/>
<line x1="734.7" y1="830.1" x2="738.9" y2="830.1" stroke="#000" stroke-width="2"/>
<text x="725.8" y="837.8" font-size="16.2" text-anchor="end">10</text>
<text x="725.8" y="831.6" font-size="12.6">0</text>
<line x1="735.9" y1="817.61" x2="738.9" y2="817.61" stroke="#000" stroke-width="1"/>
<line x1="735.9" y1="810.3" x2="738.9" y2="810.3" stroke="#000" stroke-width="1"/>
<line x1="735.9" y1="805.11" x2="738.9" y2="805.11" stroke="#000" stroke-width="1"/>
<line x1="735.9" y1="801.09" x2="738.9" y2="801.09" stroke="#000" stroke-width="1"/>
<line x1="735.9" y1="797.81" x2="738.9" y2="797.81" stroke="#000" stroke-width="1"/>
<line x1="735.9" y1="795.03" x2="738.9" y2="795.03" stroke="#000" stroke-width="1"/>
<line x1="735.9" y1="792.62" x2="738.9" y2="792.62" stroke="#000" stroke-width="1"/>
<line x1="735.9" y1="790.5" x2="738.9" y2="790.5" stroke="#000" stroke-width="1"/>
<line x1="734.7" y1="788.6" x2="738.9" y2="788.6" stroke="#000" stroke-width="2"/>
<text x="725.8" y="796.3" font-size="16.2" text-anchor="end">10</text>
<text x="725.8" y="790.1" font-size="12.6">1</text>
<line x1="735.9" y1="776.11" x2="738.9" y2="776.11" stroke="#000" stroke-width="1"/>
<line x1="735.9" y1="768.8" x2="738.9" y2="768.8" stroke="#000" stroke-width="1"/>
<line x1="735.9" y1="763.61" x2="738.9" y2="763.61" stroke="#000" stroke-width="1"/>
<line x1="735.9" y1="759.59" x2="738.9" y2="759.59" stroke="#000" stroke-width="1"/>
<line x1="735.9" y1="756.31" x2="738.9" y2="756.31" stroke="#000" stroke-width="1"/>
<line x1="735.9" y1="753.53" x2="738.9" y2="753.53" stroke="#000" stroke-width="1"/>
<line x1="735.9" y1="751.12" x2="738.9" y2="751.12" stroke="#000" stroke-width="1"/>
<line x1="735.9" y1="749" x2="738.9" y2="749" stroke="#000" stroke-width="1"/>
<line x1="734.7" y1="747.1" x2="738.9" y2="747.1" stroke="#000" stroke-width="2"/>
<text x="725.8" y="754.8" font-size="16.2" text-anchor="end">10</text>
<text x="725.8" y="748.6" font-size="12.6">2</text>
<line x1="735.9" y1="734.61" x2="738.9" y2="734.61" stroke="#000" stroke-width="1"/>
<line x1="735.9" y1="727.3" x2="738.9" y2="727.3" stroke="#000" stroke-width="1"/>
<line x1="735.9" y1="722.11" x2="738.9" y2="722.11" stroke="#000" stroke-width="1"/>
<line x1="735.9" y1="718.09" x2="738.9" y2="718.09" stroke="#000" stroke-width="1"/>
<line x1="735.9" y1="714.81" x2="738.9" y2="714.81" stroke="#000" stroke-width="1"/>
<line x1="735.9" y1="712.03" x2="738.9" y2="712.03" stroke="#000" stroke-width="1"/>
<line x1="735.9" y1="709.62" x2="738.9" y2="709.62" stroke="#000" stroke-width="1"/>
<line x1="735.9" y1="707.5" x2="738.9" y2="707.5" stroke="#000" stroke-width="1"/>
<line x1="734.7" y1="705.6" x2="738.9" y2="705.6" stroke="#000" stroke-width="2"/>
<text x="725.8" y="713.3" font-size="16.2" text-anchor="end">10</text>
<text x="725.8" y="707.1" font-size="12.6">3</text>
<line x1="735.9" y1="693.11" x2="738.9" y2="693.11" stroke="#000" stroke-width="1"/>
<line x1="735.9" y1="685.8" x2="738.9" y2="685.8" stroke="#000" stroke-width="1"/>
<line x1="735.9" y1="680.61" x2="738.9" y2="680.61" stroke="#000" stroke-width="1"/>
<line x1="735.9" y1="676.59" x2="738.9" y2="676.59" stroke="#000" stroke-width="1"/>
<line x1="735.9" y1="673.31" x2="738.9" y2="673.31" stroke="#000" stroke-width="1"/>
<line x1="735.9" y1="670.53" x2="738.9" y2="670.53" stroke="#000" stroke-width="1"/>
<line x1="735.9" y1="668.12" x2="738.9" y2="668.12" stroke="#000" stroke-width="1"/>
<line x1="735.9" y1="666" x2="738.9" y2="666" stroke="#000" stroke-width="1"/>
<line x1="734.7" y1="664.1" x2="738.9" y2="664.1" stroke="#000" stroke-width="2"/>
<text x="725.8" y="671.8" font-size="16.2" text-anchor="end">10</text>
<text x="725.8" y="665.6" font-size="12.6">4</text>
<line x1="735.9" y1="651.61" x2="738.9" y2="651.61" stroke="#000" stroke-width="1"/>
<line x1="735.9" y1="644.3" x2="738.9" y2="644.3" stroke="#000" stroke-width="1"/>
<line x1="735.9" y1="639.11" x2="738.9" y2="639.11" stroke="#000" stroke-width="1"/>
<line x1="735.9" y1="635.09" x2="738.9" y2="635.09" stroke="#000" stroke-width="1"/>
<line x1="735.9" y1="631.81" x2="738.9" y2="631.81" stroke="#000" stroke-width="1"/>
<line x1="735.9" y1="629.03" x2="738.9" y2="629.03" stroke="#000" stroke-width="1"/>
<line x1="735.9" y1="626.62" x2="738.9" y2="626.62" stroke="#000" stroke-width="1"/>
<line x1="735.9" y1="624.5" x2="738.9" y2="624.5" stroke="#000" stroke-width="1"/>
<line x1="734.7" y1="622.6" x2="738.9" y2="622.6" stroke="#000" stroke-width="2"/>
<text x="725.8" y="630.3" font-size="16.2" text-anchor="end">10</text>
<text x="725.8" y="624.1" font-size="12.6">5</text>
<line x1="735.9" y1="610.11" x2="738.9" y2="610.11" stroke="#000" stroke-width="1"/>
<line x1="735.9" y1="602.8" x2="738.9" y2="602.8" stroke="#000" stroke-width="1"/>
<line x1="735.9" y1="597.61" x2="738.9" y2="597.61" stroke="#000" stroke-width="1"/>
<line x1="735.9" y1="593.59" x2="738.9" y2="593.59" stroke="#000" stroke-width="1"/>
<line x1="735.9" y1="590.31" x2="738.9" y2="590.31" stroke="#000" stroke-width="1"/>
<line x1="735.9" y1="587.53" x2="738.9" y2="587.53" stroke="#000" stroke-width="1"/>
<line x1="735.9" y1="585.12" x2="738.9" y2="585.12" stroke="#000" stroke-width="1"/>
<line x1="735.9" y1="583" x2="738.9" y2="583" stroke="#000" stroke-width="1"/>
<line x1="734.7" y1="581.1" x2="738.9" y2="581.1" stroke="#000" stroke-width="2"/>
<text x="725.8" y="588.8" font-size="16.2" text-anchor="end">10</text>
<text x="725.8" y="582.6" font-size="12.6">6</text>
<line x1="735.9" y1="568.61" x2="738.9" y2="568.61" stroke="#000" stroke-width="1"/>
<line x1="735.9" y1="561.3" x2="738.9" y2="561.3" stroke="#000" stroke-width="1"/>
<line x1="735.9" y1="556.11" x2="738.9" y2="556.11" stroke="#000" stroke-width="1"/>
<line x1="735.9" y1="552.09" x2="738.9" y2="552.09" stroke="#000" stroke-width="1"/>
<line x1="735.9" y1="548.81" x2="738.9" y2="548.81" stroke="#000" stroke-width="1"/>
<line x1="735.9" y1="546.03" x2="738.9" y2="546.03" stroke="#000" stroke-width="1"/>
<line x1="735.9" y1="543.62" x2="738.9" y2="543.62" stroke="#000" stroke-width="1"/>
<line x1="735.9" y1="541.5" x2="738.9" y2="541.5" stroke="#000" stroke-width="1"/>
<line x1="734.7" y1="539.6" x2="738.9" y2="539.6" stroke="#000" stroke-width="2"/>
<text x="725.8" y="547.3" font-size="16.2" text-anchor="end">10</text>
<text x="725.8" y="541.1" font-size="12.6">7</text>
<line x1="735.3" y1="830.1" x2="1173.8" y2="830.1" stroke="#000" stroke-width="2.8"/>
<line x1="751.2" y1="830.1" x2="751.2" y2="834.5" stroke="#000" stroke-width="2.4"/>
<text x="751.2" y="850.8" font-size="16.5" text-anchor="middle">0</text>
<line x1="775.36" y1="830.1" x2="775.36" y2="834.5" stroke="#000" stroke-width="2.4"/>
<text x="775.36" y="850.8" font-size="16.5" text-anchor="middle">1</text>
<line x1="799.52" y1="830.1" x2="799.52" y2="834.5" stroke="#000" stroke-width="2.4"/>
<text x="799.52" y="850.8" font-size="16.5" text-anchor="middle">2</text>
<line x1="823.68" y1="830.1" x2="823.68" y2="834.5" stroke="#000" stroke-width="2.4"/>
<text x="823.68" y="850.8" font-size="16.5" text-anchor="middle">3</text>
<line x1="847.84" y1="830.1" x2="847.84" y2="834.5" stroke="#000" stroke-width="2.4"/>
<text x="847.84" y="850.8" font-size="16.5" text-anchor="middle">4</text>
<line x1="872" y1="830.1" x2="872" y2="834.5" stroke="#000" stroke-width="2.4"/>
<text x="872" y="850.8" font-size="16.5" text-anchor="middle">5</text>
<line x1="896.16" y1="830.1" x2="896.16" y2="834.5" stroke="#000" stroke-width="2.4"/>
<text x="896.16" y="850.8" font-size="16.5" text-anchor="middle">6</text>
<line x1="920.32" y1="830.1" x2="920.32" y2="834.5" stroke="#000" stroke-width="2.4"/>
<text x="920.32" y="850.8" font-size="16.5" text-anchor="middle">7</text>
<line x1="944.48" y1="830.1" x2="944.48" y2="834.5" stroke="#000" stroke-width="2.4"/>
<text x="944.48" y="850.8" font-size="16.5" text-anchor="middle">8</text>
<line x1="968.64" y1="830.1" x2="968.64" y2="834.5" stroke="#000" stroke-width="2.4"/>
<text x="968.64" y="850.8" font-size="16.5" text-anchor="middle">9</text>
<line x1="992.8" y1="830.1" x2="992.8" y2="834.5" stroke="#000" stroke-width="2.4"/>
<text x="992.8" y="850.8" font-size="16.5" text-anchor="middle">10</text>
<line x1="1016.96" y1="830.1" x2="1016.96" y2="834.5" stroke="#000" stroke-width="2.4"/>
<text x="1016.96" y="850.8" font-size="16.5" text-anchor="middle">11</text>
<line x1="1041.12" y1="830.1" x2="1041.12" y2="834.5" stroke="#000" stroke-width="2.4"/>
<text x="1041.12" y="850.8" font-size="16.5" text-anchor="middle">12</text>
<line x1="1065.28" y1="830.1" x2="1065.28" y2="834.5" stroke="#000" stroke-width="2.4"/>
<text x="1065.28" y="850.8" font-size="16.5" text-anchor="middle">13</text>
<line x1="1089.44" y1="830.1" x2="1089.44" y2="834.5" stroke="#000" stroke-width="2.4"/>
<text x="1089.44" y="850.8" font-size="16.5" text-anchor="middle">14</text>
<line x1="1113.6" y1="830.1" x2="1113.6" y2="834.5" stroke="#000" stroke-width="2.4"/>
<text x="1113.6" y="850.8" font-size="16.5" text-anchor="middle">15</text>
<line x1="1137.76" y1="830.1" x2="1137.76" y2="834.5" stroke="#000" stroke-width="2.4"/>
<text x="1137.76" y="850.8" font-size="16.5" text-anchor="middle">16</text>
<line x1="1161.92" y1="830.1" x2="1161.92" y2="834.5" stroke="#000" stroke-width="2.4"/>
<text x="1161.92" y="850.8" font-size="16.5" text-anchor="middle">17</text>
<text x="859.2" y="895.6" font-size="22.2">Week post-infection</text>
<text transform="translate(681.4,680.8) rotate(-90)" font-size="22.2" text-anchor="middle">vRNA copies/mL plasma</text>
<line x1="740.4" y1="730.7" x2="1173.8" y2="730.7" stroke="#000" stroke-width="1.7" stroke-dasharray="1.6 1.75"/>
<text x="1184.8" y="732.6" font-size="13.15">Limit of detection</text>
<polyline points="751.2,830.1 775.36,689 799.52,718.05 823.68,830.1 847.84,830.1 872,830.1 896.16,785.7 920.32,742.95 944.48,830.1 968.64,755.82 992.8,830.1 1016.96,830.1 1041.12,781.96 1065.28,761.21 1089.44,830.1 1113.6,763.29 1137.76,767.02" fill="none" stroke="#00189c" stroke-width="1.9" stroke-linejoin="round"/>
<polygon points="748,824.8 754.4,824.8 757.4,831.9 755.8,836.1 746.6,836.1 745,831.9" fill="#00189c"/>
<polygon points="772.16,683.7 778.56,683.7 781.56,690.8 779.96,695 770.76,695 769.16,690.8" fill="#00189c"/>
<polygon points="796.32,712.75 802.72,712.75 805.72,719.85 804.12,724.05 794.92,724.05 793.32,719.85" fill="#00189c"/>
<polygon points="820.48,824.8 826.88,824.8 829.88,831.9 828.28,836.1 819.08,836.1 817.48,831.9" fill="#00189c"/>
<polygon points="844.64,824.8 851.04,824.8 854.04,831.9 852.44,836.1 843.24,836.1 841.64,831.9" fill="#00189c"/>
<polygon points="868.8,824.8 875.2,824.8 878.2,831.9 876.6,836.1 867.4,836.1 865.8,831.9" fill="#00189c"/>
<polygon points="892.96,780.4 899.36,780.4 902.36,787.5 900.76,791.7 891.56,791.7 889.96,787.5" fill="#00189c"/>
<polygon points="917.12,737.65 923.52,737.65 926.52,744.75 924.92,748.95 915.72,748.95 914.12,744.75" fill="#00189c"/>
<polygon points="941.28,824.8 947.68,824.8 950.68,831.9 949.08,836.1 939.88,836.1 938.28,831.9" fill="#00189c"/>
<polygon points="965.44,750.52 971.84,750.52 974.84,757.62 973.24,761.82 964.04,761.82 962.44,757.62" fill="#00189c"/>
<polygon points="989.6,824.8 996,824.8 999,831.9 997.4,836.1 988.2,836.1 986.6,831.9" fill="#00189c"/>
<polygon points="1013.76,824.8 1020.16,824.8 1023.16,831.9 1021.56,836.1 1012.36,836.1 1010.76,831.9" fill="#00189c"/>
<polygon points="1037.92,776.66 1044.32,776.66 1047.32,783.76 1045.72,787.96 1036.52,787.96 1034.92,783.76" fill="#00189c"/>
<polygon points="1062.08,755.91 1068.48,755.91 1071.48,763.01 1069.88,767.21 1060.68,767.21 1059.08,763.01" fill="#00189c"/>
<polygon points="1086.24,824.8 1092.64,824.8 1095.64,831.9 1094.04,836.1 1084.84,836.1 1083.24,831.9" fill="#00189c"/>
<polygon points="1110.4,757.99 1116.8,757.99 1119.8,765.09 1118.2,769.29 1109,769.29 1107.4,765.09" fill="#00189c"/>
<polygon points="1134.56,761.72 1140.96,761.72 1143.96,768.82 1142.36,773.02 1133.16,773.02 1131.56,768.82" fill="#00189c"/>
<polyline points="751.2,830.1 775.36,747.93 799.52,617.21 823.68,694.39 847.84,722.2 872,705.6 896.16,689 920.32,718.88 944.48,721.79 968.64,736.31 992.8,723.45 1016.96,746.27 1041.12,753.33 1065.28,730.5 1089.44,740.05 1113.6,726.35 1137.76,830.1 1161.92,764.95" fill="none" stroke="#a4772c" stroke-width="1.9" stroke-linejoin="round"/>
<polygon points="747.1,823.5 755.3,823.5 757.8,826 757.8,834.2 755.3,836.7 747.1,836.7 744.6,834.2 744.6,826" fill="#a4772c"/>
<polygon points="771.26,741.33 779.46,741.33 781.96,743.83 781.96,752.03 779.46,754.53 771.26,754.53 768.76,752.03 768.76,743.83" fill="#a4772c"/>
<polygon points="795.42,610.61 803.62,610.61 806.12,613.11 806.12,621.31 803.62,623.81 795.42,623.81 792.92,621.31 792.92,613.11" fill="#a4772c"/>
<polygon points="819.58,687.79 827.78,687.79 830.28,690.29 830.28,698.5 827.78,701 819.58,701 817.08,698.5 817.08,690.29" fill="#a4772c"/>
<polygon points="843.74,715.6 851.94,715.6 854.44,718.1 854.44,726.3 851.94,728.8 843.74,728.8 841.24,726.3 841.24,718.1" fill="#a4772c"/>
<polygon points="867.9,699 876.1,699 878.6,701.5 878.6,709.7 876.1,712.2 867.9,712.2 865.4,709.7 865.4,701.5" fill="#a4772c"/>
<polygon points="892.06,682.4 900.26,682.4 902.76,684.9 902.76,693.1 900.26,695.6 892.06,695.6 889.56,693.1 889.56,684.9" fill="#a4772c"/>
<polygon points="916.22,712.28 924.42,712.28 926.92,714.78 926.92,722.98 924.42,725.48 916.22,725.48 913.72,722.98 913.72,714.78" fill="#a4772c"/>
<polygon points="940.38,715.19 948.58,715.19 951.08,717.69 951.08,725.89 948.58,728.39 940.38,728.39 937.88,725.89 937.88,717.69" fill="#a4772c"/>
<polygon points="964.54,729.71 972.74,729.71 975.24,732.21 975.24,740.41 972.74,742.91 964.54,742.91 962.04,740.41 962.04,732.21" fill="#a4772c"/>
<polygon points="988.7,716.85 996.9,716.85 999.4,719.35 999.4,727.55 996.9,730.05 988.7,730.05 986.2,727.55 986.2,719.35" fill="#a4772c"/>
<polygon points="1012.86,739.67 1021.06,739.67 1023.56,742.17 1023.56,750.37 1021.06,752.87 1012.86,752.87 1010.36,750.37 1010.36,742.17" fill="#a4772c"/>
<polygon points="1037.02,746.73 1045.22,746.73 1047.72,749.23 1047.72,757.43 1045.22,759.93 1037.02,759.93 1034.52,757.43 1034.52,749.23" fill="#a4772c"/>
<polygon points="1061.18,723.9 1069.38,723.9 1071.88,726.4 1071.88,734.6 1069.38,737.1 1061.18,737.1 1058.68,734.6 1058.68,726.4" fill="#a4772c"/>
<polygon points="1085.34,733.45 1093.54,733.45 1096.04,735.95 1096.04,744.15 1093.54,746.65 1085.34,746.65 1082.84,744.15 1082.84,735.95" fill="#a4772c"/>
<polygon points="1109.5,719.75 1117.7,719.75 1120.2,722.25 1120.2,730.45 1117.7,732.95 1109.5,732.95 1107,730.45 1107,722.25" fill="#a4772c"/>
<polygon points="1133.66,823.5 1141.86,823.5 1144.36,826 1144.36,834.2 1141.86,836.7 1133.66,836.7 1131.16,834.2 1131.16,826" fill="#a4772c"/>
<polygon points="1157.82,758.35 1166.02,758.35 1168.52,760.85 1168.52,769.05 1166.02,771.55 1157.82,771.55 1155.32,769.05 1155.32,760.85" fill="#a4772c"/>
<polyline points="751.2,830.1 775.36,706.85 799.52,645.84 823.68,731.75 847.84,747.1 872,764.95 896.16,749.59 920.32,746.27 944.48,830.1" fill="none" stroke="#000000" stroke-width="1.9" stroke-linejoin="round"/>
<circle cx="751.2" cy="830.1" r="6.4" fill="#000000"/>
<circle cx="775.36" cy="706.85" r="6.4" fill="#000000"/>
<circle cx="799.52" cy="645.84" r="6.4" fill="#000000"/>
<circle cx="823.68" cy="731.75" r="6.4" fill="#000000"/>
<circle cx="847.84" cy="747.1" r="6.4" fill="#000000"/>
<circle cx="872" cy="764.95" r="6.4" fill="#000000"/>
<circle cx="896.16" cy="749.59" r="6.4" fill="#000000"/>
<circle cx="920.32" cy="746.27" r="6.4" fill="#000000"/>
<circle cx="944.48" cy="830.1" r="6.4" fill="#000000"/>
<polyline points="751.2,830.1 775.36,672.4 799.52,736.31 823.68,746.69 847.84,763.29 872,754.99 896.16,735.48 920.32,770.34 944.48,830.1 968.64,830.1 992.8,769.1 1016.96,830.1 1041.12,830.1 1065.28,764.12 1089.44,755.82 1113.6,830.1 1137.76,766.61" fill="none" stroke="#ff9400" stroke-width="1.9" stroke-linejoin="round"/>
<polygon points="751.2,825.7 755.3,830.1 751.2,834.5 747.1,830.1" fill="#ff9400"/>
<polygon points="775.36,668 779.46,672.4 775.36,676.8 771.26,672.4" fill="#ff9400"/>
<polygon points="799.52,731.91 803.62,736.31 799.52,740.71 795.42,736.31" fill="#ff9400"/>
<polygon points="823.68,742.29 827.78,746.69 823.68,751.09 819.58,746.69" fill="#ff9400"/>
<polygon points="847.84,758.89 851.94,763.29 847.84,767.69 843.74,763.29" fill="#ff9400"/>
<polygon points="872,750.59 876.1,754.99 872,759.38 867.9,754.99" fill="#ff9400"/>
<polygon points="896.16,731.08 900.26,735.48 896.16,739.88 892.06,735.48" fill="#ff9400"/>
<polygon points="920.32,765.94 924.42,770.34 920.32,774.74 916.22,770.34" fill="#ff9400"/>
<polygon points="944.48,825.7 948.58,830.1 944.48,834.5 940.38,830.1" fill="#ff9400"/>
<polygon points="968.64,825.7 972.74,830.1 968.64,834.5 964.54,830.1" fill="#ff9400"/>
<polygon points="992.8,764.7 996.9,769.1 992.8,773.5 988.7,769.1" fill="#ff9400"/>
<polygon points="1016.96,825.7 1021.06,830.1 1016.96,834.5 1012.86,830.1" fill="#ff9400"/>
<polygon points="1041.12,825.7 1045.22,830.1 1041.12,834.5 1037.02,830.1" fill="#ff9400"/>
<polygon points="1065.28,759.72 1069.38,764.12 1065.28,768.51 1061.18,764.12" fill="#ff9400"/>
<polygon points="1089.44,751.42 1093.54,755.82 1089.44,760.22 1085.34,755.82" fill="#ff9400"/>
<polygon points="1113.6,825.7 1117.7,830.1 1113.6,834.5 1109.5,830.1" fill="#ff9400"/>
<polygon points="1137.76,762.21 1141.86,766.61 1137.76,771 1133.66,766.61" fill="#ff9400"/>
<polyline points="751.2,830.1 775.36,753.33 799.52,623.43 823.68,669.91 847.84,684.85 872,697.3 896.16,706.85 920.32,698.96 944.48,696.06 968.64,684.85 992.8,699.38 1016.96,705.6 1041.12,696.88 1065.28,683.61 1089.44,692.74 1113.6,686.1 1137.76,683.19 1161.92,686.92" fill="none" stroke="#b840f0" stroke-width="1.9" stroke-linejoin="round"/>
<polygon points="751.2,834.2 755.8,826 746.6,826" fill="#b840f0"/>
<polygon points="775.36,757.43 779.96,749.23 770.76,749.23" fill="#b840f0"/>
<polygon points="799.52,627.53 804.12,619.33 794.92,619.33" fill="#b840f0"/>
<polygon points="823.68,674.01 828.28,665.81 819.08,665.81" fill="#b840f0"/>
<polygon points="847.84,688.95 852.44,680.75 843.24,680.75" fill="#b840f0"/>
<polygon points="872,701.4 876.6,693.2 867.4,693.2" fill="#b840f0"/>
<polygon points="896.16,710.95 900.76,702.75 891.56,702.75" fill="#b840f0"/>
<polygon points="920.32,703.06 924.92,694.86 915.72,694.86" fill="#b840f0"/>
<polygon points="944.48,700.16 949.08,691.96 939.88,691.96" fill="#b840f0"/>
<polygon points="968.64,688.95 973.24,680.75 964.04,680.75" fill="#b840f0"/>
<polygon points="992.8,703.48 997.4,695.27 988.2,695.27" fill="#b840f0"/>
<polygon points="1016.96,709.7 1021.56,701.5 1012.36,701.5" fill="#b840f0"/>
<polygon points="1041.12,700.99 1045.72,692.78 1036.52,692.78" fill="#b840f0"/>
<polygon points="1065.28,687.71 1069.88,679.5 1060.68,679.5" fill="#b840f0"/>
<polygon points="1089.44,696.84 1094.04,688.63 1084.84,688.63" fill="#b840f0"/>
<polygon points="1113.6,690.2 1118.2,682 1109,682" fill="#b840f0"/>
<polygon points="1137.76,687.29 1142.36,679.09 1133.16,679.09" fill="#b840f0"/>
<polygon points="1161.92,691.02 1166.52,682.82 1157.32,682.82" fill="#b840f0"/>
<polyline points="751.2,830.1 775.36,830.1 799.52,830.1 823.68,830.1 847.84,830.1 872,830.1 896.16,830.1 920.32,830.1 944.48,830.1 968.64,830.1 992.8,830.1 1016.96,830.1 1041.12,830.1 1065.28,830.1 1089.44,830.1 1113.6,830.1 1137.76,830.1 1161.92,830.1" fill="none" stroke="#10c410" stroke-width="1.9" stroke-linejoin="round"/>
<polygon points="751.2,826 755.8,834.2 746.6,834.2" fill="#10c410"/>
<polygon points="775.36,826 779.96,834.2 770.76,834.2" fill="#10c410"/>
<polygon points="799.52,826 804.12,834.2 794.92,834.2" fill="#10c410"/>
<polygon points="823.68,826 828.28,834.2 819.08,834.2" fill="#10c410"/>
<polygon points="847.84,826 852.44,834.2 843.24,834.2" fill="#10c410"/>
<polygon points="872,826 876.6,834.2 867.4,834.2" fill="#10c410"/>
<polygon points="896.16,826 900.76,834.2 891.56,834.2" fill="#10c410"/>
<polygon points="920.32,826 924.92,834.2 915.72,834.2" fill="#10c410"/>
<polygon points="944.48,826 949.08,834.2 939.88,834.2" fill="#10c410"/>
<polygon points="968.64,826 973.24,834.2 964.04,834.2" fill="#10c410"/>
<polygon points="992.8,826 997.4,834.2 988.2,834.2" fill="#10c410"/>
<polygon points="1016.96,826 1021.56,834.2 1012.36,834.2" fill="#10c410"/>
<polygon points="1041.12,826 1045.72,834.2 1036.52,834.2" fill="#10c410"/>
<polygon points="1065.28,826 1069.88,834.2 1060.68,834.2" fill="#10c410"/>
<polygon points="1089.44,826 1094.04,834.2 1084.84,834.2" fill="#10c410"/>
<polygon points="1113.6,826 1118.2,834.2 1109,834.2" fill="#10c410"/>
<polygon points="1137.76,826 1142.36,834.2 1133.16,834.2" fill="#10c410"/>
<polygon points="1161.92,826 1166.52,834.2 1157.32,834.2" fill="#10c410"/>
<polyline points="751.2,830.1 775.36,633.81 799.52,644.6 823.68,709.34 847.84,703.94 872,713.9 896.16,714.32 920.32,733.82 944.48,724.28 968.64,707.67" fill="none" stroke="#ff2a00" stroke-width="1.9" stroke-linejoin="round"/>
<rect x="746.9" y="825.8" width="8.6" height="8.6" fill="#ff2a00"/>
<rect x="771.06" y="629.51" width="8.6" height="8.6" fill="#ff2a00"/>
<rect x="795.22" y="640.3" width="8.6" height="8.6" fill="#ff2a00"/>
<rect x="819.38" y="705.04" width="8.6" height="8.6" fill="#ff2a00"/>
<rect x="843.54" y="699.64" width="8.6" height="8.6" fill="#ff2a00"/>
<rect x="867.7" y="709.6" width="8.6" height="8.6" fill="#ff2a00"/>
<rect x="891.86" y="710.02" width="8.6" height="8.6" fill="#ff2a00"/>
<rect x="916.02" y="729.52" width="8.6" height="8.6" fill="#ff2a00"/>
<rect x="940.18" y="719.98" width="8.6" height="8.6" fill="#ff2a00"/>
<rect x="964.34" y="703.38" width="8.6" height="8.6" fill="#ff2a00"/>
<polyline points="751.2,830.1 775.36,616.79 799.52,647.09 823.68,726.35 847.84,733.4 872,743.78 896.16,767.44 920.32,761.21 944.48,759.97 968.64,746.27 992.8,746.27 1016.96,769.51 1041.12,773.66" fill="none" stroke="#0a3cff" stroke-width="1.9" stroke-linejoin="round"/>
<circle cx="751.2" cy="830.1" r="4.3" fill="#0a3cff"/>
<circle cx="775.36" cy="616.79" r="4.3" fill="#0a3cff"/>
<circle cx="799.52" cy="647.09" r="4.3" fill="#0a3cff"/>
<circle cx="823.68" cy="726.35" r="4.3" fill="#0a3cff"/>
<circle cx="847.84" cy="733.4" r="4.3" fill="#0a3cff"/>
<circle cx="872" cy="743.78" r="4.3" fill="#0a3cff"/>
<circle cx="896.16" cy="767.44" r="4.3" fill="#0a3cff"/>
<circle cx="920.32" cy="761.21" r="4.3" fill="#0a3cff"/>
<circle cx="944.48" cy="759.97" r="4.3" fill="#0a3cff"/>
<circle cx="968.64" cy="746.27" r="4.3" fill="#0a3cff"/>
<circle cx="992.8" cy="746.27" r="4.3" fill="#0a3cff"/>
<circle cx="1016.96" cy="769.51" r="4.3" fill="#0a3cff"/>
<circle cx="1041.12" cy="773.66" r="4.3" fill="#0a3cff"/>
<line x1="1185.8" y1="494.9" x2="1204.8" y2="494.9" stroke="#0a3cff" stroke-width="1.7"/>
<circle cx="1195.3" cy="494.9" r="4.3" fill="#0a3cff"/>
<text x="1213" y="499.4" font-size="13.6">6582</text>
<line x1="1185.8" y1="514.4" x2="1204.8" y2="514.4" stroke="#ff2a00" stroke-width="1.7"/>
<rect x="1191" y="510.1" width="8.6" height="8.6" fill="#ff2a00"/>
<text x="1213" y="518.9" font-size="13.6">6600</text>
<line x1="1185.8" y1="533.9" x2="1204.8" y2="533.9" stroke="#10c410" stroke-width="1.7"/>
<polygon points="1195.3,529.8 1199.9,538 1190.7,538" fill="#10c410"/>
<text x="1213" y="538.4" font-size="13.6">6601</text>
<line x1="1185.8" y1="553.9" x2="1204.8" y2="553.9" stroke="#b840f0" stroke-width="1.7"/>
<polygon points="1195.3,558 1199.9,549.8 1190.7,549.8" fill="#b840f0"/>
<text x="1213" y="558.4" font-size="13.6">6578</text>
<line x1="1185.8" y1="574.2" x2="1204.8" y2="574.2" stroke="#ff9400" stroke-width="1.7"/>
<polygon points="1195.3,569.8 1199.4,574.2 1195.3,578.6 1191.2,574.2" fill="#ff9400"/>
<text x="1213" y="578.7" font-size="13.6">6603</text>
<line x1="1185.8" y1="594.5" x2="1204.8" y2="594.5" stroke="#000000" stroke-width="1.7"/>
<circle cx="1195.3" cy="594.5" r="6.4" fill="#000000"/>
<text x="1213" y="599" font-size="13.6">6598</text>
<line x1="1185.8" y1="614.1" x2="1204.8" y2="614.1" stroke="#a4772c" stroke-width="1.7"/>
<polygon points="1191.2,607.5 1199.4,607.5 1201.9,610 1201.9,618.2 1199.4,620.7 1191.2,620.7 1188.7,618.2 1188.7,610" fill="#a4772c"/>
<text x="1213" y="618.6" font-size="13.6">6577</text>
<line x1="1185.8" y1="634.3" x2="1204.8" y2="634.3" stroke="#00189c" stroke-width="1.7"/>
<polygon points="1192.1,629 1198.5,629 1201.5,636.1 1199.9,640.3 1190.7,640.3 1189.1,636.1" fill="#00189c"/>
<text x="1213" y="638.8" font-size="13.6">6584</text>
<text x="1327.3" y="497.6" font-size="32.5" font-weight="bold">e</text>
<text x="1530" y="514.8" font-size="22.3" fill="#149a5a" color="#149a5a">Grp B3 - IDLV-GFP</text>
<text x="1447.4" y="564.8" font-size="15.5">Peak Avg = 247901</text>
<line x1="1408.9" y1="540.85" x2="1408.9" y2="831.9" stroke="#000" stroke-width="2.6"/>
<line x1="1404.7" y1="830.5" x2="1408.9" y2="830.5" stroke="#000" stroke-width="2"/>
<text x="1395.8" y="838.2" font-size="16.2" text-anchor="end">10</text>
<text x="1395.8" y="832" font-size="12.6">0</text>
<line x1="1405.9" y1="818.05" x2="1408.9" y2="818.05" stroke="#000" stroke-width="1"/>
<line x1="1405.9" y1="810.77" x2="1408.9" y2="810.77" stroke="#000" stroke-width="1"/>
<line x1="1405.9" y1="805.6" x2="1408.9" y2="805.6" stroke="#000" stroke-width="1"/>
<line x1="1405.9" y1="801.6" x2="1408.9" y2="801.6" stroke="#000" stroke-width="1"/>
<line x1="1405.9" y1="798.32" x2="1408.9" y2="798.32" stroke="#000" stroke-width="1"/>
<line x1="1405.9" y1="795.56" x2="1408.9" y2="795.56" stroke="#000" stroke-width="1"/>
<line x1="1405.9" y1="793.16" x2="1408.9" y2="793.16" stroke="#000" stroke-width="1"/>
<line x1="1405.9" y1="791.04" x2="1408.9" y2="791.04" stroke="#000" stroke-width="1"/>
<line x1="1404.7" y1="789.15" x2="1408.9" y2="789.15" stroke="#000" stroke-width="2"/>
<text x="1395.8" y="796.85" font-size="16.2" text-anchor="end">10</text>
<text x="1395.8" y="790.65" font-size="12.6">1</text>
<line x1="1405.9" y1="776.7" x2="1408.9" y2="776.7" stroke="#000" stroke-width="1"/>
<line x1="1405.9" y1="769.42" x2="1408.9" y2="769.42" stroke="#000" stroke-width="1"/>
<line x1="1405.9" y1="764.25" x2="1408.9" y2="764.25" stroke="#000" stroke-width="1"/>
<line x1="1405.9" y1="760.25" x2="1408.9" y2="760.25" stroke="#000" stroke-width="1"/>
<line x1="1405.9" y1="756.97" x2="1408.9" y2="756.97" stroke="#000" stroke-width="1"/>
<line x1="1405.9" y1="754.21" x2="1408.9" y2="754.21" stroke="#000" stroke-width="1"/>
<line x1="1405.9" y1="751.81" x2="1408.9" y2="751.81" stroke="#000" stroke-width="1"/>
<line x1="1405.9" y1="749.69" x2="1408.9" y2="749.69" stroke="#000" stroke-width="1"/>
<line x1="1404.7" y1="747.8" x2="1408.9" y2="747.8" stroke="#000" stroke-width="2"/>
<text x="1395.8" y="755.5" font-size="16.2" text-anchor="end">10</text>
<text x="1395.8" y="749.3" font-size="12.6">2</text>
<line x1="1405.9" y1="735.35" x2="1408.9" y2="735.35" stroke="#000" stroke-width="1"/>
<line x1="1405.9" y1="728.07" x2="1408.9" y2="728.07" stroke="#000" stroke-width="1"/>
<line x1="1405.9" y1="722.9" x2="1408.9" y2="722.9" stroke="#000" stroke-width="1"/>
<line x1="1405.9" y1="718.9" x2="1408.9" y2="718.9" stroke="#000" stroke-width="1"/>
<line x1="1405.9" y1="715.62" x2="1408.9" y2="715.62" stroke="#000" stroke-width="1"/>
<line x1="1405.9" y1="712.86" x2="1408.9" y2="712.86" stroke="#000" stroke-width="1"/>
<line x1="1405.9" y1="710.46" x2="1408.9" y2="710.46" stroke="#000" stroke-width="1"/>
<line x1="1405.9" y1="708.34" x2="1408.9" y2="708.34" stroke="#000" stroke-width="1"/>
<line x1="1404.7" y1="706.45" x2="1408.9" y2="706.45" stroke="#000" stroke-width="2"/>
<text x="1395.8" y="714.15" font-size="16.2" text-anchor="end">10</text>
<text x="1395.8" y="707.95" font-size="12.6">3</text>
<line x1="1405.9" y1="694" x2="1408.9" y2="694" stroke="#000" stroke-width="1"/>
<line x1="1405.9" y1="686.72" x2="1408.9" y2="686.72" stroke="#000" stroke-width="1"/>
<line x1="1405.9" y1="681.55" x2="1408.9" y2="681.55" stroke="#000" stroke-width="1"/>
<line x1="1405.9" y1="677.55" x2="1408.9" y2="677.55" stroke="#000" stroke-width="1"/>
<line x1="1405.9" y1="674.27" x2="1408.9" y2="674.27" stroke="#000" stroke-width="1"/>
<line x1="1405.9" y1="671.51" x2="1408.9" y2="671.51" stroke="#000" stroke-width="1"/>
<line x1="1405.9" y1="669.11" x2="1408.9" y2="669.11" stroke="#000" stroke-width="1"/>
<line x1="1405.9" y1="666.99" x2="1408.9" y2="666.99" stroke="#000" stroke-width="1"/>
<line x1="1404.7" y1="665.1" x2="1408.9" y2="665.1" stroke="#000" stroke-width="2"/>
<text x="1395.8" y="672.8" font-size="16.2" text-anchor="end">10</text>
<text x="1395.8" y="666.6" font-size="12.6">4</text>
<line x1="1405.9" y1="652.65" x2="1408.9" y2="652.65" stroke="#000" stroke-width="1"/>
<line x1="1405.9" y1="645.37" x2="1408.9" y2="645.37" stroke="#000" stroke-width="1"/>
<line x1="1405.9" y1="640.2" x2="1408.9" y2="640.2" stroke="#000" stroke-width="1"/>
<line x1="1405.9" y1="636.2" x2="1408.9" y2="636.2" stroke="#000" stroke-width="1"/>
<line x1="1405.9" y1="632.92" x2="1408.9" y2="632.92" stroke="#000" stroke-width="1"/>
<line x1="1405.9" y1="630.16" x2="1408.9" y2="630.16" stroke="#000" stroke-width="1"/>
<line x1="1405.9" y1="627.76" x2="1408.9" y2="627.76" stroke="#000" stroke-width="1"/>
<line x1="1405.9" y1="625.64" x2="1408.9" y2="625.64" stroke="#000" stroke-width="1"/>
<line x1="1404.7" y1="623.75" x2="1408.9" y2="623.75" stroke="#000" stroke-width="2"/>
<text x="1395.8" y="631.45" font-size="16.2" text-anchor="end">10</text>
<text x="1395.8" y="625.25" font-size="12.6">5</text>
<line x1="1405.9" y1="611.3" x2="1408.9" y2="611.3" stroke="#000" stroke-width="1"/>
<line x1="1405.9" y1="604.02" x2="1408.9" y2="604.02" stroke="#000" stroke-width="1"/>
<line x1="1405.9" y1="598.85" x2="1408.9" y2="598.85" stroke="#000" stroke-width="1"/>
<line x1="1405.9" y1="594.85" x2="1408.9" y2="594.85" stroke="#000" stroke-width="1"/>
<line x1="1405.9" y1="591.57" x2="1408.9" y2="591.57" stroke="#000" stroke-width="1"/>
<line x1="1405.9" y1="588.81" x2="1408.9" y2="588.81" stroke="#000" stroke-width="1"/>
<line x1="1405.9" y1="586.41" x2="1408.9" y2="586.41" stroke="#000" stroke-width="1"/>
<line x1="1405.9" y1="584.29" x2="1408.9" y2="584.29" stroke="#000" stroke-width="1"/>
<line x1="1404.7" y1="582.4" x2="1408.9" y2="582.4" stroke="#000" stroke-width="2"/>
<text x="1395.8" y="590.1" font-size="16.2" text-anchor="end">10</text>
<text x="1395.8" y="583.9" font-size="12.6">6</text>
<line x1="1405.9" y1="569.95" x2="1408.9" y2="569.95" stroke="#000" stroke-width="1"/>
<line x1="1405.9" y1="562.67" x2="1408.9" y2="562.67" stroke="#000" stroke-width="1"/>
<line x1="1405.9" y1="557.5" x2="1408.9" y2="557.5" stroke="#000" stroke-width="1"/>
<line x1="1405.9" y1="553.5" x2="1408.9" y2="553.5" stroke="#000" stroke-width="1"/>
<line x1="1405.9" y1="550.22" x2="1408.9" y2="550.22" stroke="#000" stroke-width="1"/>
<line x1="1405.9" y1="547.46" x2="1408.9" y2="547.46" stroke="#000" stroke-width="1"/>
<line x1="1405.9" y1="545.06" x2="1408.9" y2="545.06" stroke="#000" stroke-width="1"/>
<line x1="1405.9" y1="542.94" x2="1408.9" y2="542.94" stroke="#000" stroke-width="1"/>
<line x1="1404.7" y1="541.05" x2="1408.9" y2="541.05" stroke="#000" stroke-width="2"/>
<text x="1395.8" y="548.75" font-size="16.2" text-anchor="end">10</text>
<text x="1395.8" y="542.55" font-size="12.6">7</text>
<line x1="1405.3" y1="830.1" x2="1841.6" y2="830.1" stroke="#000" stroke-width="2.8"/>
<line x1="1421.1" y1="830.1" x2="1421.1" y2="834.5" stroke="#000" stroke-width="2.4"/>
<text x="1421.1" y="850.8" font-size="16.5" text-anchor="middle">0</text>
<line x1="1446.58" y1="830.1" x2="1446.58" y2="834.5" stroke="#000" stroke-width="2.4"/>
<text x="1446.58" y="850.8" font-size="16.5" text-anchor="middle">1</text>
<line x1="1472.06" y1="830.1" x2="1472.06" y2="834.5" stroke="#000" stroke-width="2.4"/>
<text x="1472.06" y="850.8" font-size="16.5" text-anchor="middle">2</text>
<line x1="1497.54" y1="830.1" x2="1497.54" y2="834.5" stroke="#000" stroke-width="2.4"/>
<text x="1497.54" y="850.8" font-size="16.5" text-anchor="middle">3</text>
<line x1="1523.02" y1="830.1" x2="1523.02" y2="834.5" stroke="#000" stroke-width="2.4"/>
<text x="1523.02" y="850.8" font-size="16.5" text-anchor="middle">4</text>
<line x1="1548.5" y1="830.1" x2="1548.5" y2="834.5" stroke="#000" stroke-width="2.4"/>
<text x="1548.5" y="850.8" font-size="16.5" text-anchor="middle">5</text>
<line x1="1573.98" y1="830.1" x2="1573.98" y2="834.5" stroke="#000" stroke-width="2.4"/>
<text x="1573.98" y="850.8" font-size="16.5" text-anchor="middle">6</text>
<line x1="1599.46" y1="830.1" x2="1599.46" y2="834.5" stroke="#000" stroke-width="2.4"/>
<text x="1599.46" y="850.8" font-size="16.5" text-anchor="middle">7</text>
<line x1="1624.94" y1="830.1" x2="1624.94" y2="834.5" stroke="#000" stroke-width="2.4"/>
<text x="1624.94" y="850.8" font-size="16.5" text-anchor="middle">8</text>
<line x1="1650.42" y1="830.1" x2="1650.42" y2="834.5" stroke="#000" stroke-width="2.4"/>
<text x="1650.42" y="850.8" font-size="16.5" text-anchor="middle">9</text>
<line x1="1675.9" y1="830.1" x2="1675.9" y2="834.5" stroke="#000" stroke-width="2.4"/>
<text x="1675.9" y="850.8" font-size="16.5" text-anchor="middle">10</text>
<line x1="1701.38" y1="830.1" x2="1701.38" y2="834.5" stroke="#000" stroke-width="2.4"/>
<text x="1701.38" y="850.8" font-size="16.5" text-anchor="middle">11</text>
<line x1="1726.86" y1="830.1" x2="1726.86" y2="834.5" stroke="#000" stroke-width="2.4"/>
<text x="1726.86" y="850.8" font-size="16.5" text-anchor="middle">12</text>
<line x1="1752.34" y1="830.1" x2="1752.34" y2="834.5" stroke="#000" stroke-width="2.4"/>
<text x="1752.34" y="850.8" font-size="16.5" text-anchor="middle">13</text>
<line x1="1777.82" y1="830.1" x2="1777.82" y2="834.5" stroke="#000" stroke-width="2.4"/>
<text x="1777.82" y="850.8" font-size="16.5" text-anchor="middle">14</text>
<line x1="1803.3" y1="830.1" x2="1803.3" y2="834.5" stroke="#000" stroke-width="2.4"/>
<text x="1803.3" y="850.8" font-size="16.5" text-anchor="middle">15</text>
<line x1="1828.78" y1="830.1" x2="1828.78" y2="834.5" stroke="#000" stroke-width="2.4"/>
<text x="1828.78" y="850.8" font-size="16.5" text-anchor="middle">16</text>
<text x="1528.2" y="895.3" font-size="22.2">Week post-infection</text>
<text transform="translate(1350.5,680.8) rotate(-90)" font-size="22.2" text-anchor="middle">vRNA copies/mL plasma</text>
<line x1="1410.4" y1="731" x2="1842" y2="731" stroke="#000" stroke-width="1.7" stroke-dasharray="1.6 1.75"/>
<text x="1851.8" y="732.3" font-size="13.15">Limit of detection</text>
<polyline points="1421.1,830.5 1446.58,605.97 1472.06,625.82 1497.54,651.04 1523.02,646.08 1548.5,644.01 1573.98,660.55 1599.46,678.75 1624.94,679.16 1650.42,686.6 1675.9,694.05 1701.38,702.32 1726.86,735.39 1752.34,737.88" fill="none" stroke="#0a6e2a" stroke-width="1.9" stroke-linejoin="round"/>
<polygon points="1426,830.5 1424.66,832.56 1423.55,834.74 1421.1,834.62 1418.65,834.74 1417.54,832.56 1416.2,830.5 1417.54,828.44 1418.65,826.26 1421.1,826.38 1423.55,826.26 1424.66,828.44" fill="#0e7c5c"/>
<polygon points="1451.48,605.97 1450.14,608.03 1449.03,610.21 1446.58,610.09 1444.13,610.21 1443.02,608.03 1441.68,605.97 1443.02,603.91 1444.13,601.73 1446.58,601.85 1449.03,601.73 1450.14,603.91" fill="#0e7c5c"/>
<polygon points="1476.96,625.82 1475.62,627.88 1474.51,630.06 1472.06,629.93 1469.61,630.06 1468.5,627.88 1467.16,625.82 1468.5,623.76 1469.61,621.57 1472.06,621.7 1474.51,621.57 1475.62,623.76" fill="#0e7c5c"/>
<polygon points="1502.44,651.04 1501.1,653.1 1499.99,655.28 1497.54,655.16 1495.09,655.28 1493.98,653.1 1492.64,651.04 1493.98,648.98 1495.09,646.8 1497.54,646.92 1499.99,646.8 1501.1,648.98" fill="#0e7c5c"/>
<polygon points="1527.92,646.08 1526.58,648.14 1525.47,650.32 1523.02,650.19 1520.57,650.32 1519.46,648.14 1518.12,646.08 1519.46,644.02 1520.57,641.84 1523.02,641.96 1525.47,641.84 1526.58,644.02" fill="#0e7c5c"/>
<polygon points="1553.4,644.01 1552.06,646.07 1550.95,648.26 1548.5,648.13 1546.05,648.26 1544.94,646.07 1543.6,644.01 1544.94,641.95 1546.05,639.77 1548.5,639.9 1550.95,639.77 1552.06,641.95" fill="#0e7c5c"/>
<polygon points="1578.88,660.55 1577.54,662.61 1576.43,664.8 1573.98,664.67 1571.53,664.8 1570.42,662.61 1569.08,660.55 1570.42,658.49 1571.53,656.31 1573.98,656.44 1576.43,656.31 1577.54,658.49" fill="#0e7c5c"/>
<polygon points="1604.36,678.75 1603.02,680.8 1601.91,682.99 1599.46,682.86 1597.01,682.99 1595.9,680.8 1594.56,678.75 1595.9,676.69 1597.01,674.5 1599.46,674.63 1601.91,674.5 1603.02,676.69" fill="#0e7c5c"/>
<polygon points="1629.84,679.16 1628.5,681.22 1627.39,683.4 1624.94,683.27 1622.49,683.4 1621.38,681.22 1620.04,679.16 1621.38,677.1 1622.49,674.92 1624.94,675.04 1627.39,674.92 1628.5,677.1" fill="#0e7c5c"/>
<polygon points="1655.32,686.6 1653.98,688.66 1652.87,690.85 1650.42,690.72 1647.97,690.85 1646.86,688.66 1645.52,686.6 1646.86,684.54 1647.97,682.36 1650.42,682.49 1652.87,682.36 1653.98,684.54" fill="#0e7c5c"/>
<polygon points="1680.8,694.05 1679.46,696.1 1678.35,698.29 1675.9,698.16 1673.45,698.29 1672.34,696.1 1671,694.05 1672.34,691.99 1673.45,689.8 1675.9,689.93 1678.35,689.8 1679.46,691.99" fill="#0e7c5c"/>
<polygon points="1706.28,702.32 1704.94,704.37 1703.83,706.56 1701.38,706.43 1698.93,706.56 1697.82,704.37 1696.48,702.32 1697.82,700.26 1698.93,698.07 1701.38,698.2 1703.83,698.07 1704.94,700.26" fill="#0e7c5c"/>
<polygon points="1731.76,735.39 1730.42,737.45 1729.31,739.64 1726.86,739.51 1724.41,739.64 1723.3,737.45 1721.96,735.39 1723.3,733.34 1724.41,731.15 1726.86,731.28 1729.31,731.15 1730.42,733.34" fill="#0e7c5c"/>
<polygon points="1757.24,737.88 1755.9,739.93 1754.79,742.12 1752.34,741.99 1749.89,742.12 1748.78,739.93 1747.44,737.88 1748.78,735.82 1749.89,733.63 1752.34,733.76 1754.79,733.63 1755.9,735.82" fill="#0e7c5c"/>
<polyline points="1421.1,830.5 1446.58,671.3 1472.06,579.51 1497.54,634.5 1523.02,664.27 1548.5,671.3 1573.98,681.64 1599.46,663.86 1624.94,686.6 1650.42,697.77 1675.9,720.51 1701.38,723.4 1726.86,701.07" fill="none" stroke="#b01a00" stroke-width="1.9" stroke-linejoin="round"/>
<polygon points="1418.8,824.3 1423.4,824.3 1427,828.7 1427,831.1 1421.9,837 1420.3,837 1415.2,831.1 1415.2,828.7" fill="#b01a00"/>
<polygon points="1444.28,665.1 1448.88,665.1 1452.48,669.5 1452.48,671.9 1447.38,677.8 1445.78,677.8 1440.68,671.9 1440.68,669.5" fill="#b01a00"/>
<polygon points="1469.76,573.31 1474.36,573.31 1477.96,577.71 1477.96,580.11 1472.86,586.01 1471.26,586.01 1466.16,580.11 1466.16,577.71" fill="#b01a00"/>
<polygon points="1495.24,628.3 1499.84,628.3 1503.44,632.7 1503.44,635.1 1498.34,641 1496.74,641 1491.64,635.1 1491.64,632.7" fill="#b01a00"/>
<polygon points="1520.72,658.07 1525.32,658.07 1528.92,662.47 1528.92,664.87 1523.82,670.77 1522.22,670.77 1517.12,664.87 1517.12,662.47" fill="#b01a00"/>
<polygon points="1546.2,665.1 1550.8,665.1 1554.4,669.5 1554.4,671.9 1549.3,677.8 1547.7,677.8 1542.6,671.9 1542.6,669.5" fill="#b01a00"/>
<polygon points="1571.68,675.44 1576.28,675.44 1579.88,679.84 1579.88,682.24 1574.78,688.14 1573.18,688.14 1568.08,682.24 1568.08,679.84" fill="#b01a00"/>
<polygon points="1597.16,657.66 1601.76,657.66 1605.36,662.06 1605.36,664.46 1600.26,670.36 1598.66,670.36 1593.56,664.46 1593.56,662.06" fill="#b01a00"/>
<polygon points="1622.64,680.4 1627.24,680.4 1630.84,684.8 1630.84,687.2 1625.74,693.1 1624.14,693.1 1619.04,687.2 1619.04,684.8" fill="#b01a00"/>
<polygon points="1648.12,691.57 1652.72,691.57 1656.32,695.97 1656.32,698.37 1651.22,704.27 1649.62,704.27 1644.52,698.37 1644.52,695.97" fill="#b01a00"/>
<polygon points="1673.6,714.31 1678.2,714.31 1681.8,718.71 1681.8,721.11 1676.7,727.01 1675.1,727.01 1670,721.11 1670,718.71" fill="#b01a00"/>
<polygon points="1699.08,717.2 1703.68,717.2 1707.28,721.6 1707.28,724 1702.18,729.9 1700.58,729.9 1695.48,724 1695.48,721.6" fill="#b01a00"/>
<polygon points="1724.56,694.87 1729.16,694.87 1732.76,699.27 1732.76,701.67 1727.66,707.57 1726.06,707.57 1720.96,701.67 1720.96,699.27" fill="#b01a00"/>
<polyline points="1421.1,830.5 1446.58,628.3 1472.06,675.02 1497.54,698.59 1523.02,684.95 1548.5,698.59 1573.98,707.69 1599.46,753.18 1624.94,766.82 1650.42,748.63 1675.9,758.55 1701.38,758.55 1726.86,761.03 1752.34,830.5" fill="none" stroke="#7a1a70" stroke-width="1.9" stroke-linejoin="round"/>
<polygon points="1417.9,835.8 1424.3,835.8 1427.3,828.7 1425.7,824.5 1416.5,824.5 1414.9,828.7" fill="#7a1a70"/>
<polygon points="1443.38,633.6 1449.78,633.6 1452.78,626.5 1451.18,622.3 1441.98,622.3 1440.38,626.5" fill="#7a1a70"/>
<polygon points="1468.86,680.32 1475.26,680.32 1478.26,673.22 1476.66,669.02 1467.46,669.02 1465.86,673.22" fill="#7a1a70"/>
<polygon points="1494.34,703.89 1500.74,703.89 1503.74,696.79 1502.14,692.59 1492.94,692.59 1491.34,696.79" fill="#7a1a70"/>
<polygon points="1519.82,690.25 1526.22,690.25 1529.22,683.15 1527.62,678.95 1518.42,678.95 1516.82,683.15" fill="#7a1a70"/>
<polygon points="1545.3,703.89 1551.7,703.89 1554.7,696.79 1553.1,692.59 1543.9,692.59 1542.3,696.79" fill="#7a1a70"/>
<polygon points="1570.78,712.99 1577.18,712.99 1580.18,705.89 1578.58,701.69 1569.38,701.69 1567.78,705.89" fill="#7a1a70"/>
<polygon points="1596.26,758.48 1602.66,758.48 1605.66,751.38 1604.06,747.18 1594.86,747.18 1593.26,751.38" fill="#7a1a70"/>
<polygon points="1621.74,772.12 1628.14,772.12 1631.14,765.02 1629.54,760.82 1620.34,760.82 1618.74,765.02" fill="#7a1a70"/>
<polygon points="1647.22,753.93 1653.62,753.93 1656.62,746.83 1655.02,742.63 1645.82,742.63 1644.22,746.83" fill="#7a1a70"/>
<polygon points="1672.7,763.85 1679.1,763.85 1682.1,756.75 1680.5,752.55 1671.3,752.55 1669.7,756.75" fill="#7a1a70"/>
<polygon points="1698.18,763.85 1704.58,763.85 1707.58,756.75 1705.98,752.55 1696.78,752.55 1695.18,756.75" fill="#7a1a70"/>
<polygon points="1723.66,766.33 1730.06,766.33 1733.06,759.23 1731.46,755.03 1722.26,755.03 1720.66,759.23" fill="#7a1a70"/>
<polygon points="1749.14,835.8 1755.54,835.8 1758.54,828.7 1756.94,824.5 1747.74,824.5 1746.14,828.7" fill="#7a1a70"/>
<polyline points="1421.1,830.5 1446.58,611.76 1472.06,624.99 1497.54,641.53 1523.02,689.5 1548.5,650.63 1573.98,685.77 1599.46,738.7 1624.94,724.64 1650.42,664.27 1675.9,730.02 1701.38,748.63 1726.86,701.49" fill="none" stroke="#00189c" stroke-width="1.9" stroke-linejoin="round"/>
<polygon points="1417.9,825.2 1424.3,825.2 1427.3,832.3 1425.7,836.5 1416.5,836.5 1414.9,832.3" fill="#00189c"/>
<polygon points="1443.38,606.46 1449.78,606.46 1452.78,613.56 1451.18,617.76 1441.98,617.76 1440.38,613.56" fill="#00189c"/>
<polygon points="1468.86,619.69 1475.26,619.69 1478.26,626.79 1476.66,630.99 1467.46,630.99 1465.86,626.79" fill="#00189c"/>
<polygon points="1494.34,636.23 1500.74,636.23 1503.74,643.33 1502.14,647.53 1492.94,647.53 1491.34,643.33" fill="#00189c"/>
<polygon points="1519.82,684.2 1526.22,684.2 1529.22,691.3 1527.62,695.5 1518.42,695.5 1516.82,691.3" fill="#00189c"/>
<polygon points="1545.3,645.33 1551.7,645.33 1554.7,652.43 1553.1,656.63 1543.9,656.63 1542.3,652.43" fill="#00189c"/>
<polygon points="1570.78,680.48 1577.18,680.48 1580.18,687.57 1578.58,691.77 1569.38,691.77 1567.78,687.57" fill="#00189c"/>
<polygon points="1596.26,733.4 1602.66,733.4 1605.66,740.5 1604.06,744.7 1594.86,744.7 1593.26,740.5" fill="#00189c"/>
<polygon points="1621.74,719.34 1628.14,719.34 1631.14,726.44 1629.54,730.64 1620.34,730.64 1618.74,726.44" fill="#00189c"/>
<polygon points="1647.22,658.97 1653.62,658.97 1656.62,666.07 1655.02,670.27 1645.82,670.27 1644.22,666.07" fill="#00189c"/>
<polygon points="1672.7,724.72 1679.1,724.72 1682.1,731.82 1680.5,736.02 1671.3,736.02 1669.7,731.82" fill="#00189c"/>
<polygon points="1698.18,743.33 1704.58,743.33 1707.58,750.43 1705.98,754.63 1696.78,754.63 1695.18,750.43" fill="#00189c"/>
<polygon points="1723.66,696.19 1730.06,696.19 1733.06,703.29 1731.46,707.49 1722.26,707.49 1720.66,703.29" fill="#00189c"/>
<polyline points="1421.1,830.5 1446.58,756.9 1472.06,595.22 1497.54,616.31 1523.02,637.81 1548.5,653.11 1573.98,637.81 1599.46,624.58 1624.94,672.54 1650.42,689.08 1675.9,691.56 1701.38,693.22 1726.86,709.76 1752.34,699.01" fill="none" stroke="#a4772c" stroke-width="1.9" stroke-linejoin="round"/>
<polygon points="1417,823.9 1425.2,823.9 1427.7,826.4 1427.7,834.6 1425.2,837.1 1417,837.1 1414.5,834.6 1414.5,826.4" fill="#a4772c"/>
<polygon points="1442.48,750.3 1450.68,750.3 1453.18,752.8 1453.18,761 1450.68,763.5 1442.48,763.5 1439.98,761 1439.98,752.8" fill="#a4772c"/>
<polygon points="1467.96,588.62 1476.16,588.62 1478.66,591.12 1478.66,599.32 1476.16,601.82 1467.96,601.82 1465.46,599.32 1465.46,591.12" fill="#a4772c"/>
<polygon points="1493.44,609.71 1501.64,609.71 1504.14,612.21 1504.14,620.41 1501.64,622.91 1493.44,622.91 1490.94,620.41 1490.94,612.21" fill="#a4772c"/>
<polygon points="1518.92,631.21 1527.12,631.21 1529.62,633.71 1529.62,641.91 1527.12,644.41 1518.92,644.41 1516.42,641.91 1516.42,633.71" fill="#a4772c"/>
<polygon points="1544.4,646.51 1552.6,646.51 1555.1,649.01 1555.1,657.21 1552.6,659.71 1544.4,659.71 1541.9,657.21 1541.9,649.01" fill="#a4772c"/>
<polygon points="1569.88,631.21 1578.08,631.21 1580.58,633.71 1580.58,641.91 1578.08,644.41 1569.88,644.41 1567.38,641.91 1567.38,633.71" fill="#a4772c"/>
<polygon points="1595.36,617.98 1603.56,617.98 1606.06,620.48 1606.06,628.68 1603.56,631.18 1595.36,631.18 1592.86,628.68 1592.86,620.48" fill="#a4772c"/>
<polygon points="1620.84,665.94 1629.04,665.94 1631.54,668.44 1631.54,676.64 1629.04,679.14 1620.84,679.14 1618.34,676.64 1618.34,668.44" fill="#a4772c"/>
<polygon points="1646.32,682.48 1654.52,682.48 1657.02,684.98 1657.02,693.18 1654.52,695.68 1646.32,695.68 1643.82,693.18 1643.82,684.98" fill="#a4772c"/>
<polygon points="1671.8,684.96 1680,684.96 1682.5,687.46 1682.5,695.66 1680,698.16 1671.8,698.16 1669.3,695.66 1669.3,687.46" fill="#a4772c"/>
<polygon points="1697.28,686.62 1705.48,686.62 1707.98,689.12 1707.98,697.32 1705.48,699.82 1697.28,699.82 1694.78,697.32 1694.78,689.12" fill="#a4772c"/>
<polygon points="1722.76,703.16 1730.96,703.16 1733.46,705.66 1733.46,713.86 1730.96,716.36 1722.76,716.36 1720.26,713.86 1720.26,705.66" fill="#a4772c"/>
<polygon points="1748.24,692.41 1756.44,692.41 1758.94,694.91 1758.94,703.11 1756.44,705.61 1748.24,705.61 1745.74,703.11 1745.74,694.91" fill="#a4772c"/>
<polyline points="1421.1,830.5 1446.58,672.13 1472.06,636.57 1497.54,716.79 1523.02,719.27 1548.5,735.39 1573.98,758.55 1599.46,746.56 1624.94,756.9 1650.42,755.24 1675.9,749.45 1701.38,758.55 1726.86,749.45 1752.34,758.96 1777.82,765.17 1803.3,756.48 1828.78,752.76" fill="none" stroke="#000000" stroke-width="1.9" stroke-linejoin="round"/>
<circle cx="1421.1" cy="830.5" r="6.4" fill="#000000"/>
<circle cx="1446.58" cy="672.13" r="6.4" fill="#000000"/>
<circle cx="1472.06" cy="636.57" r="6.4" fill="#000000"/>
<circle cx="1497.54" cy="716.79" r="6.4" fill="#000000"/>
<circle cx="1523.02" cy="719.27" r="6.4" fill="#000000"/>
<circle cx="1548.5" cy="735.39" r="6.4" fill="#000000"/>
<circle cx="1573.98" cy="758.55" r="6.4" fill="#000000"/>
<circle cx="1599.46" cy="746.56" r="6.4" fill="#000000"/>
<circle cx="1624.94" cy="756.9" r="6.4" fill="#000000"/>
<circle cx="1650.42" cy="755.24" r="6.4" fill="#000000"/>
<circle cx="1675.9" cy="749.45" r="6.4" fill="#000000"/>
<circle cx="1701.38" cy="758.55" r="6.4" fill="#000000"/>
<circle cx="1726.86" cy="749.45" r="6.4" fill="#000000"/>
<circle cx="1752.34" cy="758.96" r="6.4" fill="#000000"/>
<circle cx="1777.82" cy="765.17" r="6.4" fill="#000000"/>
<circle cx="1803.3" cy="756.48" r="6.4" fill="#000000"/>
<circle cx="1828.78" cy="752.76" r="6.4" fill="#000000"/>
<polyline points="1421.1,830.5 1446.58,647.32 1472.06,637.4 1497.54,646.49 1523.02,683.71 1548.5,693.22 1573.98,700.66 1599.46,715.13 1624.94,712.65 1650.42,701.49 1675.9,719.27 1701.38,741.18 1726.86,728.37 1752.34,758.14 1777.82,762.27 1803.3,830.5" fill="none" stroke="#ff9400" stroke-width="1.9" stroke-linejoin="round"/>
<polygon points="1421.1,826.1 1425.2,830.5 1421.1,834.9 1417,830.5" fill="#ff9400"/>
<polygon points="1446.58,642.92 1450.68,647.32 1446.58,651.72 1442.48,647.32" fill="#ff9400"/>
<polygon points="1472.06,633 1476.16,637.4 1472.06,641.8 1467.96,637.4" fill="#ff9400"/>
<polygon points="1497.54,642.09 1501.64,646.49 1497.54,650.89 1493.44,646.49" fill="#ff9400"/>
<polygon points="1523.02,679.31 1527.12,683.71 1523.02,688.11 1518.92,683.71" fill="#ff9400"/>
<polygon points="1548.5,688.82 1552.6,693.22 1548.5,697.62 1544.4,693.22" fill="#ff9400"/>
<polygon points="1573.98,696.26 1578.08,700.66 1573.98,705.06 1569.88,700.66" fill="#ff9400"/>
<polygon points="1599.46,710.73 1603.56,715.13 1599.46,719.53 1595.36,715.13" fill="#ff9400"/>
<polygon points="1624.94,708.25 1629.04,712.65 1624.94,717.05 1620.84,712.65" fill="#ff9400"/>
<polygon points="1650.42,697.09 1654.52,701.49 1650.42,705.89 1646.32,701.49" fill="#ff9400"/>
<polygon points="1675.9,714.87 1680,719.27 1675.9,723.67 1671.8,719.27" fill="#ff9400"/>
<polygon points="1701.38,736.78 1705.48,741.18 1701.38,745.58 1697.28,741.18" fill="#ff9400"/>
<polygon points="1726.86,723.97 1730.96,728.37 1726.86,732.77 1722.76,728.37" fill="#ff9400"/>
<polygon points="1752.34,753.74 1756.44,758.14 1752.34,762.54 1748.24,758.14" fill="#ff9400"/>
<polygon points="1777.82,757.87 1781.92,762.27 1777.82,766.67 1773.72,762.27" fill="#ff9400"/>
<polygon points="1803.3,826.1 1807.4,830.5 1803.3,834.9 1799.2,830.5" fill="#ff9400"/>
<polyline points="1421.1,830.5 1446.58,760.21 1472.06,660.14 1497.54,710.59 1523.02,723.82 1548.5,715.96 1573.98,760.62 1599.46,739.53 1624.94,746.97 1650.42,830.5 1675.9,830.5 1701.38,746.15 1726.86,763.1 1752.34,761.45 1777.82,830.5" fill="none" stroke="#b840f0" stroke-width="1.9" stroke-linejoin="round"/>
<polygon points="1421.1,834.6 1425.7,826.4 1416.5,826.4" fill="#b840f0"/>
<polygon points="1446.58,764.31 1451.18,756.11 1441.98,756.11" fill="#b840f0"/>
<polygon points="1472.06,664.24 1476.66,656.04 1467.46,656.04" fill="#b840f0"/>
<polygon points="1497.54,714.69 1502.14,706.49 1492.94,706.49" fill="#b840f0"/>
<polygon points="1523.02,727.92 1527.62,719.72 1518.42,719.72" fill="#b840f0"/>
<polygon points="1548.5,720.06 1553.1,711.86 1543.9,711.86" fill="#b840f0"/>
<polygon points="1573.98,764.72 1578.58,756.52 1569.38,756.52" fill="#b840f0"/>
<polygon points="1599.46,743.63 1604.06,735.43 1594.86,735.43" fill="#b840f0"/>
<polygon points="1624.94,751.07 1629.54,742.87 1620.34,742.87" fill="#b840f0"/>
<polygon points="1650.42,834.6 1655.02,826.4 1645.82,826.4" fill="#b840f0"/>
<polygon points="1675.9,834.6 1680.5,826.4 1671.3,826.4" fill="#b840f0"/>
<polygon points="1701.38,750.25 1705.98,742.05 1696.78,742.05" fill="#b840f0"/>
<polygon points="1726.86,767.2 1731.46,759 1722.26,759" fill="#b840f0"/>
<polygon points="1752.34,765.55 1756.94,757.35 1747.74,757.35" fill="#b840f0"/>
<polygon points="1777.82,834.6 1782.42,826.4 1773.22,826.4" fill="#b840f0"/>
<polyline points="1421.1,830.5 1446.58,641.12 1472.06,668.41 1497.54,686.6 1523.02,673.37 1548.5,695.7 1573.98,684.53 1599.46,694.87 1624.94,705.21 1650.42,719.68 1675.9,723.4 1701.38,714.72 1726.86,722.99 1752.34,725.47 1777.82,739.53" fill="none" stroke="#10c410" stroke-width="1.9" stroke-linejoin="round"/>
<polygon points="1421.1,826.4 1425.7,834.6 1416.5,834.6" fill="#10c410"/>
<polygon points="1446.58,637.02 1451.18,645.22 1441.98,645.22" fill="#10c410"/>
<polygon points="1472.06,664.31 1476.66,672.51 1467.46,672.51" fill="#10c410"/>
<polygon points="1497.54,682.5 1502.14,690.7 1492.94,690.7" fill="#10c410"/>
<polygon points="1523.02,669.27 1527.62,677.47 1518.42,677.47" fill="#10c410"/>
<polygon points="1548.5,691.6 1553.1,699.8 1543.9,699.8" fill="#10c410"/>
<polygon points="1573.98,680.43 1578.58,688.63 1569.38,688.63" fill="#10c410"/>
<polygon points="1599.46,690.77 1604.06,698.97 1594.86,698.97" fill="#10c410"/>
<polygon points="1624.94,701.11 1629.54,709.31 1620.34,709.31" fill="#10c410"/>
<polygon points="1650.42,715.58 1655.02,723.78 1645.82,723.78" fill="#10c410"/>
<polygon points="1675.9,719.3 1680.5,727.5 1671.3,727.5" fill="#10c410"/>
<polygon points="1701.38,710.62 1705.98,718.82 1696.78,718.82" fill="#10c410"/>
<polygon points="1726.86,718.89 1731.46,727.09 1722.26,727.09" fill="#10c410"/>
<polygon points="1752.34,721.37 1756.94,729.57 1747.74,729.57" fill="#10c410"/>
<polygon points="1777.82,735.43 1782.42,743.63 1773.22,743.63" fill="#10c410"/>
<polyline points="1421.1,830.5 1446.58,747.39 1472.06,608.86 1497.54,657.66 1523.02,708.1 1548.5,683.29 1573.98,737.88 1599.46,732.09 1624.94,765.99 1650.42,762.69 1675.9,768.06" fill="none" stroke="#ff2a00" stroke-width="1.9" stroke-linejoin="round"/>
<rect x="1416.8" y="826.2" width="8.6" height="8.6" fill="#ff2a00"/>
<rect x="1442.28" y="743.09" width="8.6" height="8.6" fill="#ff2a00"/>
<rect x="1467.76" y="604.56" width="8.6" height="8.6" fill="#ff2a00"/>
<rect x="1493.24" y="653.36" width="8.6" height="8.6" fill="#ff2a00"/>
<rect x="1518.72" y="703.8" width="8.6" height="8.6" fill="#ff2a00"/>
<rect x="1544.2" y="678.99" width="8.6" height="8.6" fill="#ff2a00"/>
<rect x="1569.68" y="733.58" width="8.6" height="8.6" fill="#ff2a00"/>
<rect x="1595.16" y="727.79" width="8.6" height="8.6" fill="#ff2a00"/>
<rect x="1620.64" y="761.69" width="8.6" height="8.6" fill="#ff2a00"/>
<rect x="1646.12" y="758.39" width="8.6" height="8.6" fill="#ff2a00"/>
<rect x="1671.6" y="763.76" width="8.6" height="8.6" fill="#ff2a00"/>
<polyline points="1421.1,830.5 1446.58,757.31 1472.06,615.48 1497.54,617.55 1523.02,657.66 1548.5,679.99 1573.98,676.26 1599.46,673.37 1624.94,691.98 1650.42,679.57 1675.9,701.49" fill="none" stroke="#0a3cff" stroke-width="1.9" stroke-linejoin="round"/>
<circle cx="1421.1" cy="830.5" r="4.3" fill="#0a3cff"/>
<circle cx="1446.58" cy="757.31" r="4.3" fill="#0a3cff"/>
<circle cx="1472.06" cy="615.48" r="4.3" fill="#0a3cff"/>
<circle cx="1497.54" cy="617.55" r="4.3" fill="#0a3cff"/>
<circle cx="1523.02" cy="657.66" r="4.3" fill="#0a3cff"/>
<circle cx="1548.5" cy="679.99" r="4.3" fill="#0a3cff"/>
<circle cx="1573.98" cy="676.26" r="4.3" fill="#0a3cff"/>
<circle cx="1599.46" cy="673.37" r="4.3" fill="#0a3cff"/>
<circle cx="1624.94" cy="691.98" r="4.3" fill="#0a3cff"/>
<circle cx="1650.42" cy="679.57" r="4.3" fill="#0a3cff"/>
<circle cx="1675.9" cy="701.49" r="4.3" fill="#0a3cff"/>
<line x1="1853" y1="494.8" x2="1871.6" y2="494.8" stroke="#0a3cff" stroke-width="1.7"/>
<circle cx="1862.4" cy="494.8" r="4.3" fill="#0a3cff"/>
<text x="1880.3" y="499.3" font-size="13.6">6579</text>
<line x1="1853" y1="511.6" x2="1871.6" y2="511.6" stroke="#ff2a00" stroke-width="1.7"/>
<rect x="1858.1" y="507.3" width="8.6" height="8.6" fill="#ff2a00"/>
<text x="1880.3" y="516.1" font-size="13.6">6583</text>
<line x1="1853" y1="528.7" x2="1871.6" y2="528.7" stroke="#10c410" stroke-width="1.7"/>
<polygon points="1862.4,524.6 1867,532.8 1857.8,532.8" fill="#10c410"/>
<text x="1880.3" y="533.2" font-size="13.6">6593</text>
<line x1="1853" y1="546.1" x2="1871.6" y2="546.1" stroke="#b840f0" stroke-width="1.7"/>
<polygon points="1862.4,550.2 1867,542 1857.8,542" fill="#b840f0"/>
<text x="1880.3" y="550.6" font-size="13.6">6594</text>
<line x1="1853" y1="564.5" x2="1871.6" y2="564.5" stroke="#ff9400" stroke-width="1.7"/>
<polygon points="1862.4,560.1 1866.5,564.5 1862.4,568.9 1858.3,564.5" fill="#ff9400"/>
<text x="1880.3" y="569" font-size="13.6">6602</text>
<line x1="1853" y1="582.3" x2="1871.6" y2="582.3" stroke="#000000" stroke-width="1.7"/>
<circle cx="1862.4" cy="582.3" r="6.4" fill="#000000"/>
<text x="1880.3" y="586.8" font-size="13.6">6585</text>
<line x1="1853" y1="600.7" x2="1871.6" y2="600.7" stroke="#a4772c" stroke-width="1.7"/>
<polygon points="1858.3,594.1 1866.5,594.1 1869,596.6 1869,604.8 1866.5,607.3 1858.3,607.3 1855.8,604.8 1855.8,596.6" fill="#a4772c"/>
<text x="1880.3" y="605.2" font-size="13.6">6576</text>
<line x1="1853" y1="620.1" x2="1871.6" y2="620.1" stroke="#00189c" stroke-width="1.7"/>
<polygon points="1859.2,614.8 1865.6,614.8 1868.6,621.9 1867,626.1 1857.8,626.1 1856.2,621.9" fill="#00189c"/>
<text x="1880.3" y="624.6" font-size="13.6">6580</text>
<line x1="1853" y1="640.5" x2="1871.6" y2="640.5" stroke="#7a1a70" stroke-width="1.7"/>
<polygon points="1859.2,645.8 1865.6,645.8 1868.6,638.7 1867,634.5 1857.8,634.5 1856.2,638.7" fill="#7a1a70"/>
<text x="1880.3" y="645" font-size="13.6">6581</text>
<line x1="1853" y1="660.2" x2="1871.6" y2="660.2" stroke="#b01a00" stroke-width="1.7"/>
<polygon points="1860.1,654 1864.7,654 1868.3,658.4 1868.3,660.8 1863.2,666.7 1861.6,666.7 1856.5,660.8 1856.5,658.4" fill="#b01a00"/>
<text x="1880.3" y="664.7" font-size="13.6">6588</text>
<line x1="1853" y1="680.6" x2="1871.6" y2="680.6" stroke="#0a6e2a" stroke-width="1.7"/>
<polygon points="1867.3,680.6 1865.96,682.66 1864.85,684.84 1862.4,684.72 1859.95,684.84 1858.84,682.66 1857.5,680.6 1858.84,678.54 1859.95,676.36 1862.4,676.48 1864.85,676.36 1865.96,678.54" fill="#0e7c5c"/>
<text x="1880.3" y="685.1" font-size="13.6">6590</text>
</svg></body></html>
